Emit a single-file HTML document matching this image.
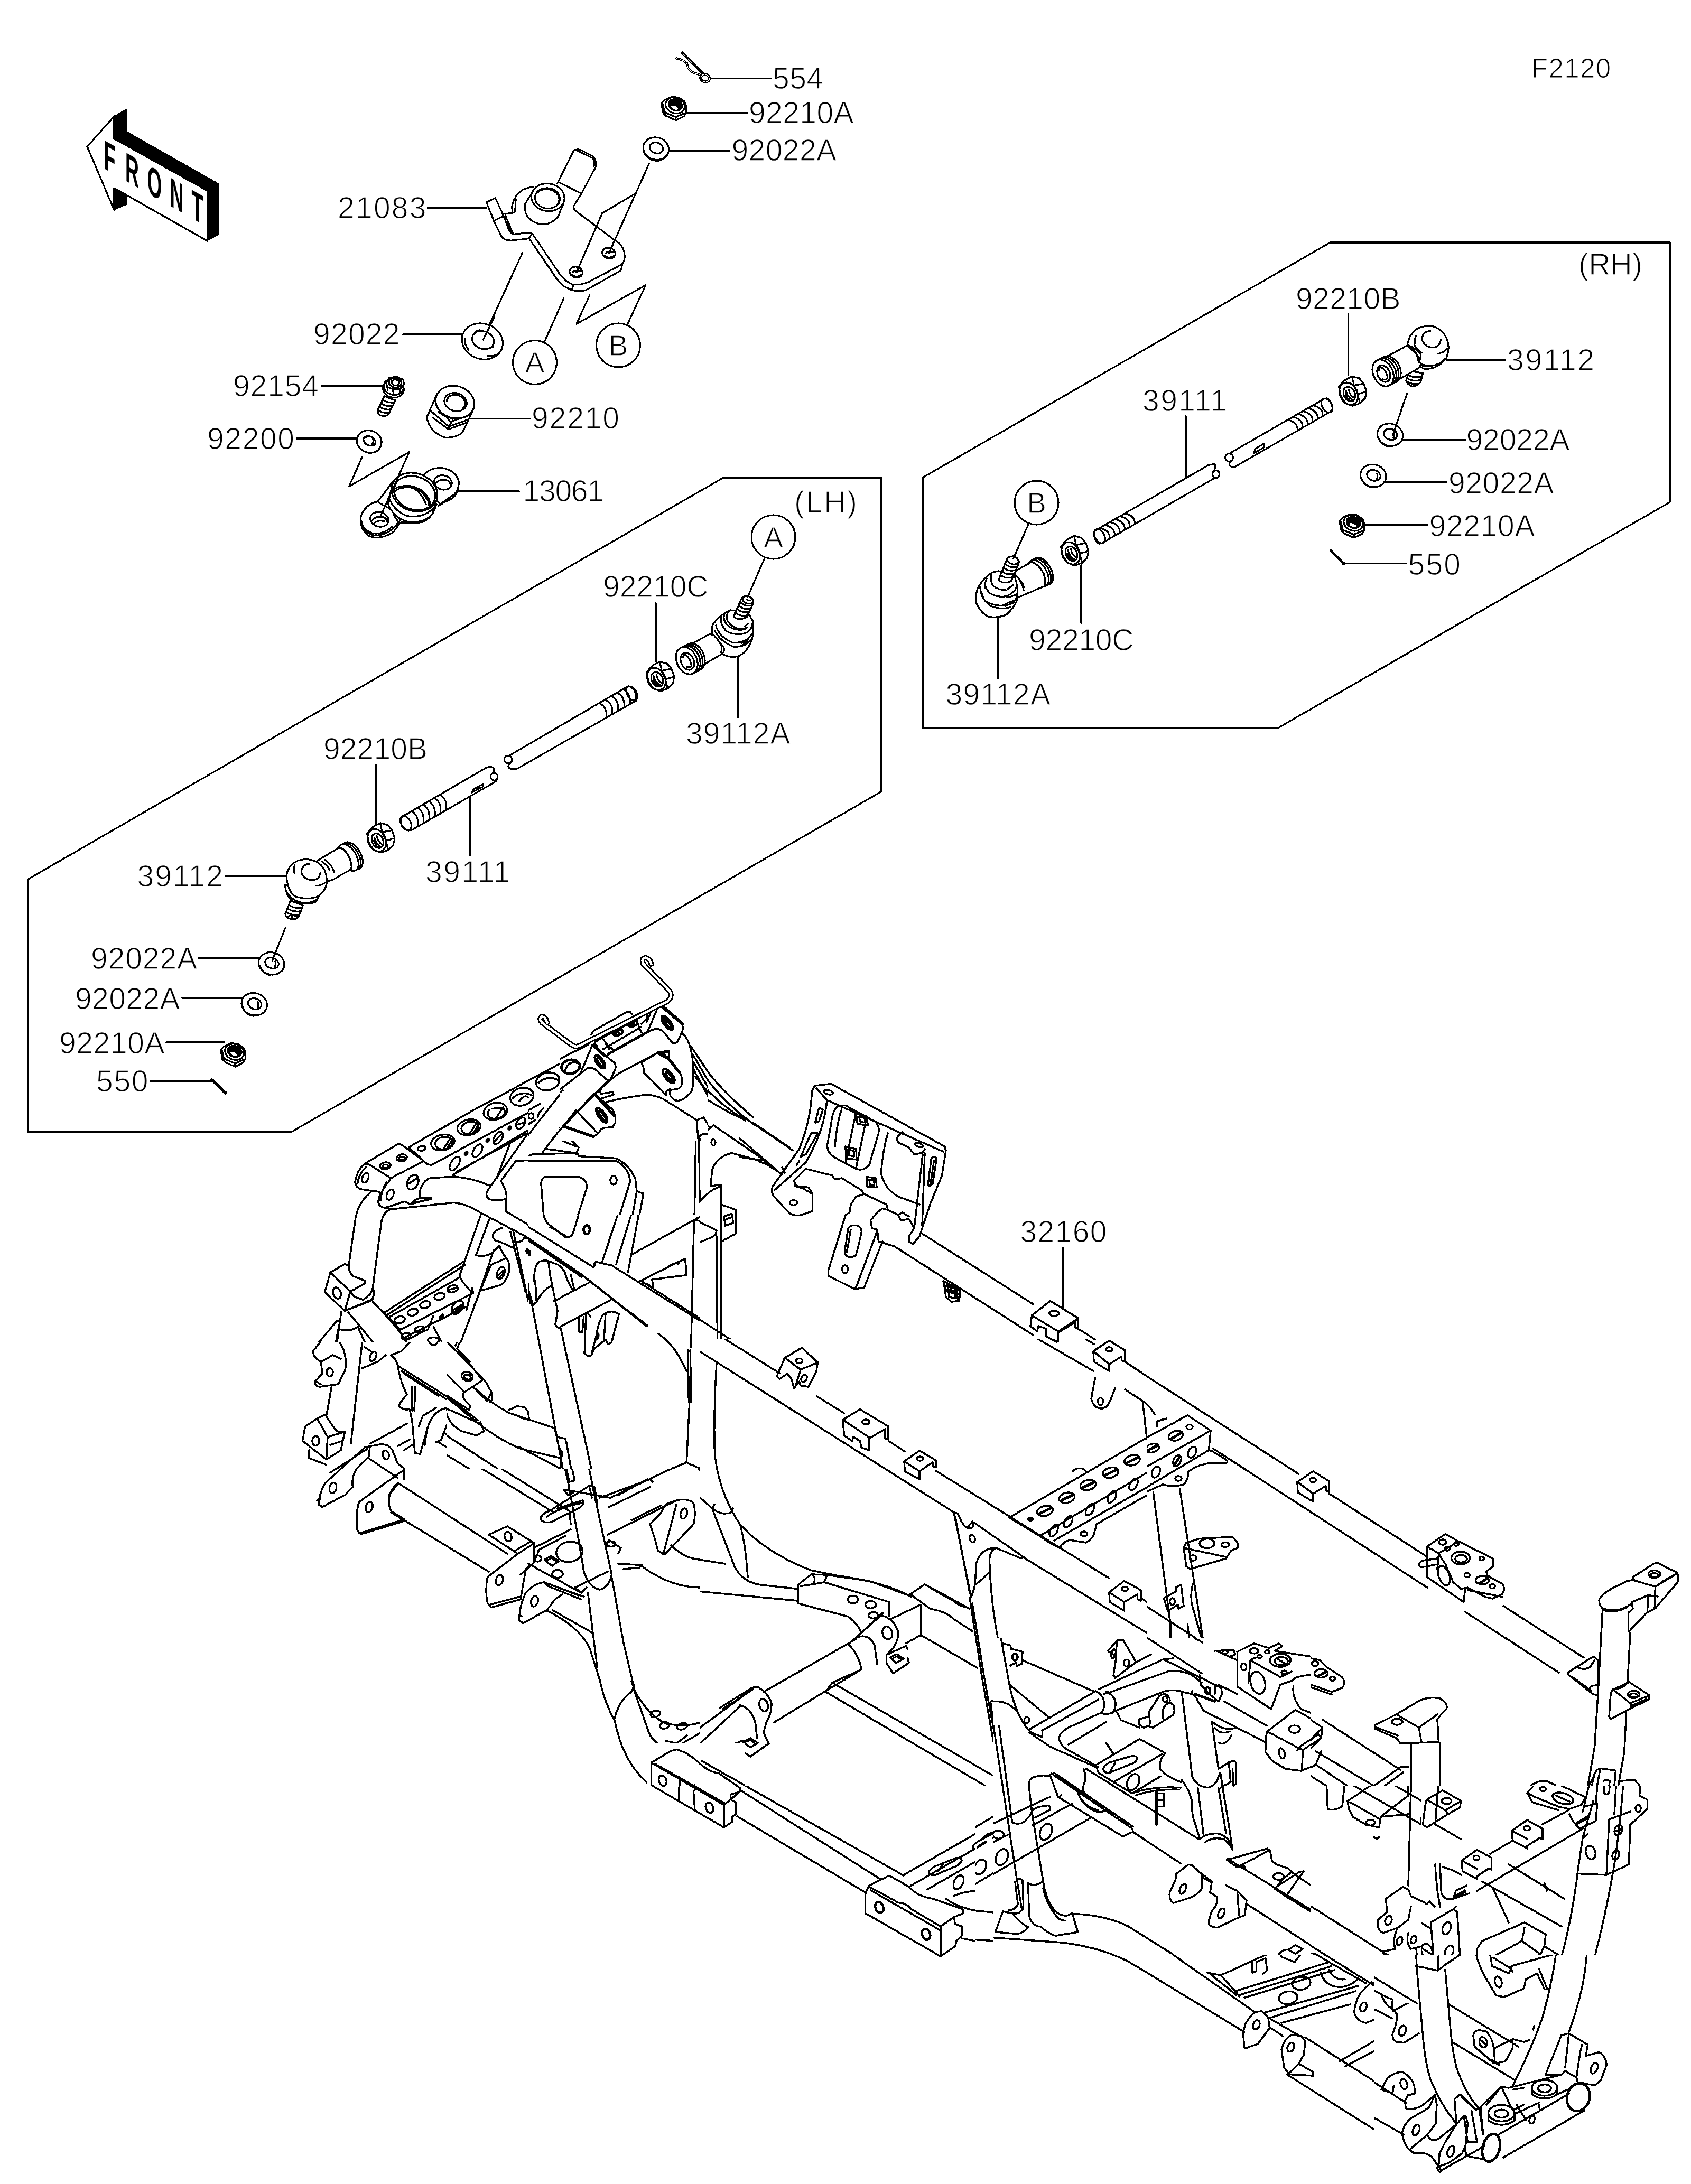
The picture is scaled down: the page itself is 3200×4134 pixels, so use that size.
<!DOCTYPE html>
<html lang="en"><head><meta charset="utf-8"><title>F2120 Frame</title>
<style>
html,body{margin:0;padding:0;background:#fff}
svg{display:block}
svg *{vector-effect:non-scaling-stroke}
svg path,svg ellipse,svg circle,svg line,svg polygon{shape-rendering:crispEdges}
.l{fill:none;stroke:#000;stroke-width:3.1px;stroke-linecap:round;stroke-linejoin:round}
.f{fill:none;stroke:#000;stroke-width:3.5px;stroke-linecap:round;stroke-linejoin:round}
.w{fill:#fff;stroke:#000;stroke-width:3.1px;stroke-linejoin:round;stroke-linecap:round}
.k{fill:#000;stroke:#000;stroke-width:1px;stroke-linejoin:round}
.t{font-family:"Liberation Sans",sans-serif;font-size:57px;fill:#000;stroke:#fff;stroke-width:1.3px}
.ts{font-family:"Liberation Sans",sans-serif;font-size:51px;fill:#000;stroke:#fff;stroke-width:1.2px}
.tc{font-family:"Liberation Sans",sans-serif;font-size:55px;fill:#000;stroke:#fff;stroke-width:1.3px;text-anchor:middle}
.tf{font-family:"Liberation Sans",sans-serif;font-weight:bold;font-size:78px;fill:#000;text-anchor:middle}
</style></head><body>
<svg width="3200" height="4134" viewBox="0 0 3200 4134">
<rect x="0" y="0" width="3200" height="4134" fill="#fff" stroke="none"/>
<g id="front">
<path class="k" d="M216 220L239 206.500L239 248.500L414 347.500L414 444L392.500 456L392.500 361L216 262.500Z"/>
<path class="k" d="M216 356L239 369L239 387.500L216 397.500Z"/>
<path class="w" d="M165 277.500L216 220L216 262.500L392.500 361L392.500 456L216 356L216 397.500Z"/>
<g transform="translate(207.500,325) skewY(29.500)">
<text class="tf" transform="translate(0,0) scale(.46,1)" x="0" y="0">F</text>
<text class="tf" transform="translate(42.500,0) scale(.46,1)" x="0" y="0">R</text>
<text class="tf" transform="translate(85,0) scale(.46,1)" x="0" y="0">O</text>
<text class="tf" transform="translate(127,0) scale(.46,1)" x="0" y="0">N</text>
<text class="tf" transform="translate(166,0) scale(.46,1)" x="0" y="0">T</text>
</g>
</g>
<g id="bracket21083" transform="translate(900,260) scale(.2496)">
<path class="l" d="M620 350L745 100Q762 86 795 95L885 140Q920 172 912 222L800 430L745 520Q738 542 757 557L1090 805Q1135 850 1130 910Q1128 950 1100 968L860 1095Q790 1125 735 1115Q690 1100 640 1040L430 730L415 722L285 735Q262 722 250 700L215 600"/>
<path class="l" d="M770 100L890 160Q905 185 898 218"/>
<path class="l" d="M640 345L800 425"/>
<path class="l" d="M210 590L150 460L82 492L145 650L195 750Q210 772 230 777L270 782L400 768L430 732"/>
<path class="l" d="M145 630L205 600M225 590L285 735M205 585L270 720"/>
<path class="l" d="M210 580L280 575Q300 570 300 545L305 470M280 575L275 530Q290 440 360 395Q400 378 440 375"/>
<path class="l" d="M405 765L620 1080Q650 1120 690 1140Q740 1170 810 1165Q840 1160 870 1140L1100 1010Q1112 990 1110 965M740 1120L730 1160"/>
<ellipse class="l" cx="548" cy="455" rx="126" ry="104" transform="rotate(8 548 455)"/>
<ellipse class="l" cx="545" cy="462" rx="95" ry="77" transform="rotate(8 545 462)"/>
<path class="l" d="M470 420Q500 385 560 395Q625 410 635 470Q630 500 618 515"/>
<path class="l" d="M425 425L375 505Q365 560 400 610Q450 660 520 660Q590 650 625 600L665 505"/>
<ellipse class="l" cx="1010" cy="878" rx="50" ry="40" transform="rotate(15 1010 878)"/>
<path class="l" d="M975 895Q1010 925 1045 900M985 880Q1000 860 1040 870"/>
<ellipse class="l" cx="762" cy="1022" rx="50" ry="40" transform="rotate(15 762 1022)"/>
<path class="l" d="M727 1040Q762 1068 797 1045M737 1022Q755 1003 792 1015"/>
<path class="l" d="M1315 200L1010 880M1205 430L960 575L765 1025M355 875L55 1530M668 1222L525 1545M865 1195L765 1415L1290 1120L1150 1420"/>
<ellipse class="l" cx="1368" cy="85" rx="98" ry="84" transform="rotate(15 1368 85)"/>
<ellipse class="l" cx="1370" cy="80" rx="52" ry="40" transform="rotate(20 1370 80)"/>
<path class="l" d="M1275 110Q1300 175 1380 178Q1440 170 1460 120"/>
</g>
<g id="pin554" transform="translate(1220,80) scale(.1248)">
<path d="M485 245Q600 270 640 320Q650 400 700 440Q760 475 835 492" fill="none" stroke="#000" stroke-width="4.4" stroke-linecap="round"/>
<path d="M485 245Q600 270 640 320Q650 400 700 440Q760 475 835 492" fill="none" stroke="#fff" stroke-width="1.1" stroke-linecap="round"/>
<path d="M570 160L885 478" fill="none" stroke="#000" stroke-width="5" stroke-linecap="round"/>
<path d="M575 175L720 320" fill="none" stroke="#fff" stroke-width=".8"/>
<ellipse cx="915" cy="545" rx="66" ry="56" fill="#fff" stroke="#000" stroke-width="5.5" transform="rotate(15 915 545)"/>
<ellipse cx="915" cy="545" rx="66" ry="56" fill="none" stroke="#fff" stroke-width="1" transform="rotate(15 915 545)"/>
</g>
<g id="nut92210A_top" transform="translate(1220,80) scale(.1248)">
<path class="w" d="M255 925L300 875L415 825L520 840L600 895L625 950L630 1060L600 1120L475 1185L320 1115L275 1065Z"/>
<path class="l" d="M275 935L300 1060L470 1135L605 1075M470 1135L475 1185M300 1060L320 1115"/>
<ellipse class="l" cx="462" cy="958" rx="148" ry="118" transform="rotate(20 462 958)"/>
<ellipse class="k" cx="465" cy="950" rx="115" ry="92" transform="rotate(20 465 950)"/>
<ellipse cx="455" cy="992" rx="56" ry="24" fill="#fff" stroke="none" transform="rotate(25 455 992)"/>
</g>
<g id="leftparts" transform="translate(640,600) scale(.2496)">
<!-- washer 92022 -->
<ellipse class="w" cx="1093" cy="185" rx="158" ry="134" transform="rotate(20 1093 185)"/>
<ellipse class="l" cx="1098" cy="175" rx="85" ry="66" transform="rotate(20 1098 175)"/>
<path class="l" d="M962 165Q955 215 990 250M1130 296Q1180 300 1215 280M1030 125Q1045 105 1070 100M1175 170Q1185 200 1170 230"/>
<path class="l" d="M1185 0L1100 172"/>
<!-- bolt 92154 -->
<path class="w" d="M350 600L298 710Q300 745 340 752Q375 750 388 728L432 632Z"/>
<path class="l" d="M335 625Q375 655 420 648M322 652Q362 682 408 675M310 678Q350 708 396 700M300 704Q340 734 386 726"/>
<ellipse class="w" cx="418" cy="545" rx="80" ry="66" transform="rotate(10 418 545)"/>
<ellipse class="w" cx="420" cy="530" rx="76" ry="60" transform="rotate(10 420 530)"/>
<path class="w" d="M362 500L385 462L440 452L492 475L500 510L470 545L415 548L372 530Z"/>
<ellipse class="l" cx="432" cy="498" rx="48" ry="36" transform="rotate(10 432 498)"/>
<ellipse class="l" cx="434" cy="498" rx="30" ry="22" transform="rotate(10 434 498)"/>
<path class="l" d="M372 530L375 560M415 548L418 580M470 545L472 572"/>
<!-- washer 92200 -->
<ellipse class="w" cx="235" cy="945" rx="95" ry="84" transform="rotate(20 235 945)"/>
<ellipse class="l" cx="237" cy="940" rx="48" ry="34" transform="rotate(25 237 940)"/>
<path class="l" d="M150 975Q175 1025 240 1030M262 922Q275 945 255 965M205 915Q215 905 230 905"/>
<!-- zigzag -->
<path class="l" d="M180 1065L82 1285L538 1025L316 1522"/>
<!-- collar 92210 -->
<path class="w" d="M742 600L672 760Q690 870 810 915Q920 915 950 860L1030 690Z"/>
<path class="l" d="M735 640L850 795L1000 742M705 715L838 832L985 778M838 832L868 785M838 832L845 852M720 765L835 852L972 802"/>
<ellipse class="w" cx="885" cy="645" rx="148" ry="122" transform="rotate(15 885 645)"/>
<ellipse class="l" cx="890" cy="645" rx="86" ry="68" transform="rotate(15 890 645)"/>
<path class="l" d="M822 640Q830 590 890 590Q950 600 962 650Q960 680 945 695"/>
<path class="l" d="M760 720Q840 790 960 760"/>
</g>
<g id="p13061" transform="translate(640,600) scale(.2496)">
<!-- right ear -->
<path class="w" d="M650 1195Q700 1140 790 1145Q900 1165 915 1255Q915 1310 880 1345L770 1420L690 1300Z"/>
<path class="l" d="M905 1300Q905 1340 870 1372L760 1430"/>
<ellipse class="l" cx="795" cy="1255" rx="68" ry="54" transform="rotate(15 795 1255)"/>
<path class="l" d="M740 1260Q770 1225 830 1240Q855 1260 855 1285"/>
<!-- left ear -->
<path class="w" d="M300 1400Q200 1420 170 1520Q165 1620 240 1665Q330 1690 420 1630L470 1560Q560 1575 640 1555Q720 1520 745 1420L420 1240Z"/>
<path class="l" d="M180 1580Q200 1640 270 1655Q350 1665 420 1600L475 1535M175 1545Q190 1620 260 1640Q340 1655 410 1590"/>
<path class="l" d="M300 1400L420 1240M310 1410L440 1480M440 1480L480 1520M420 1500L460 1560M470 1560L600 1530"/>
<ellipse class="l" cx="312" cy="1535" rx="70" ry="55" transform="rotate(15 312 1535)"/>
<path class="l" d="M255 1545Q290 1500 350 1520Q375 1540 375 1570M265 1570Q300 1535 350 1550"/>
<!-- body -->
<path class="w" d="M405 1290L378 1420Q420 1520 520 1550Q640 1570 710 1500L750 1380Z"/>
<path class="l" d="M388 1380Q430 1480 530 1510Q650 1525 715 1455"/>
<ellipse class="w" cx="578" cy="1328" rx="178" ry="142" transform="rotate(20 578 1328)"/>
<ellipse class="l" cx="580" cy="1335" rx="160" ry="125" transform="rotate(20 580 1335)"/>
<path class="l" d="M430 1320Q520 1262 620 1320Q690 1380 690 1440M435 1300Q530 1250 640 1320Q700 1380 700 1430M560 1290Q640 1340 665 1420"/>
<path class="l" d="M538 1025L316 1522"/>
</g>
<g id="lh39112A" transform="translate(1080,1100) scale(.2496)">
<!-- stud -->
<path class="w" d="M1295 130L1235 270Q1270 305 1335 272L1385 165Q1380 120 1340 112Q1305 112 1295 130Z"/>
<ellipse class="l" cx="1343" cy="142" rx="42" ry="28" transform="rotate(15 1343 142)"/>
<path class="l" d="M1285 160Q1320 195 1372 185M1275 185Q1310 220 1362 208M1262 212Q1298 245 1350 232M1250 240Q1285 272 1340 258"/>
<path class="l" d="M1335 140Q1350 150 1360 145"/>
<!-- socket -->
<path class="w" d="M1075 335Q1110 270 1210 220L1250 225L1235 270Q1270 305 1335 272L1350 250L1380 300Q1392 370 1375 440Q1340 540 1270 570Q1200 585 1150 550Q1170 520 1160 500L1085 410Q1060 395 1075 335Z"/>
<path class="l" d="M1100 335Q1120 420 1230 468Q1330 470 1375 400M1092 375Q1130 455 1235 498Q1330 500 1370 440M1300 470L1345 445M1300 485L1350 460"/>
<path class="l" d="M1140 275Q1130 330 1180 380Q1260 420 1340 390Q1375 360 1378 320M1165 250Q1150 300 1200 345Q1260 380 1320 365M1150 340L1170 365M1240 350Q1290 375 1340 350M1320 345L1345 320"/>
<path class="l" d="M1210 220Q1175 240 1185 290Q1200 330 1235 345"/>
<!-- neck -->
<path class="w" d="M920 475L1055 400L1085 410L1160 500Q1172 520 1150 550L985 648Z"/>
<path class="l" d="M1130 470Q1155 500 1140 540"/>
<!-- threaded end rings -->
<ellipse class="w" cx="935" cy="575" rx="76" ry="108" transform="rotate(-25 935 575)"/>
<ellipse class="w" cx="918" cy="585" rx="76" ry="108" transform="rotate(-25 918 585)"/>
<ellipse class="w" cx="900" cy="593" rx="76" ry="108" transform="rotate(-25 900 593)"/>
<ellipse class="w" cx="880" cy="603" rx="76" ry="108" transform="rotate(-25 880 603)"/>
<ellipse class="l" cx="885" cy="608" rx="48" ry="68" transform="rotate(-25 885 608)"/>
<path class="l" d="M850 580Q850 555 870 560Q905 580 915 640M880 650Q905 660 915 640"/>
</g>
<g id="lh92210C" transform="translate(1080,1100) scale(.2496)">
<path class="w" d="M575 690L620 640L675 610L730 625L765 665L785 725L775 775L735 815L680 835L625 815L590 760Z"/>
<path class="l" d="M675 610L690 680L765 665M690 680L718 745L735 815M718 745L785 725"/>
<ellipse class="l" cx="650" cy="742" rx="66" ry="88" transform="rotate(-25 650 742)"/>
<ellipse class="l" cx="655" cy="745" rx="42" ry="58" transform="rotate(-25 655 745)"/>
<path class="l" d="M630 720Q640 770 680 790M650 710Q660 760 695 775M625 745Q640 785 670 800"/>
</g>
<g id="lhrod" transform="translate(680,1280) scale(.2496)">
<path class="w" d="M330 1062L960 695Q990 680 1018 695Q1030 720 1000 745Q990 775 1040 795L400 1165Q360 1180 330 1150Q300 1100 330 1062Z"/>
<ellipse class="l" cx="352" cy="1112" rx="36" ry="58" transform="rotate(-30 352 1112)"/>
<path class="l" d="M398 1022Q455 1060 442 1140M441 997Q498 1035 485 1115M484 972Q541 1010 528 1090M527 947Q584 985 571 1065M570 922Q627 960 614 1040M613 897Q670 935 657 1015"/>
<circle class="w" cx="1022" cy="762" r="28"/>
<path class="l" d="M850 882L872 852L940 818L932 842ZM872 852L925 845"/>
<path class="w" d="M1140 600L2030 80Q2075 70 2095 110Q2115 150 2100 184L1200 700Q1150 712 1130 690Q1125 670 1150 655Z"/>
<circle class="w" cx="1128" cy="632" r="30"/>
<ellipse class="l" cx="2065" cy="130" rx="36" ry="58" transform="rotate(-30 2065 130)"/>
<path class="l" d="M1820 205Q1882 232 1872 318M1865 179Q1927 206 1917 292M1910 153Q1972 180 1962 266M1955 127Q2017 154 2007 240M2000 101Q2062 128 2052 214M2045 75Q2107 102 2097 188"/>
</g>
<use href="#lh92210C" transform="translate(-529,305.5)"/>
<defs>
<g id="wsh">
<ellipse class="w" cx="0" cy="0" rx="24.5" ry="21" transform="rotate(15)"/>
<ellipse class="l" cx=".5" cy="-1" rx="13" ry="10" transform="rotate(20)"/>
<path class="l" d="M-22.5 4Q-18 19 -2 22.5M7 -4Q9 2 6 6"/>
</g>
</defs>
<g id="lh39112" transform="translate(380,1590) scale(.2496)">
<!-- stud -->
<path class="w" d="M680 460L640 560Q645 590 690 602Q730 600 742 582L775 495Z"/>
<path class="l" d="M668 492Q705 520 762 515M658 518Q695 548 752 540M648 545Q685 575 745 565M690 602L692 575M660 580Q690 560 740 585"/>
<!-- boot rings -->
<path class="w" d="M640 340Q640 420 700 465Q790 500 870 470L900 420Z"/>
<path class="l" d="M655 400Q700 470 790 480Q850 475 880 450"/>
<!-- neck + end -->
<ellipse class="w" cx="1150" cy="118" rx="62" ry="112" transform="rotate(-30 1150 118)"/>
<ellipse class="w" cx="1135" cy="125" rx="62" ry="112" transform="rotate(-30 1135 125)"/>
<ellipse class="w" cx="1118" cy="133" rx="62" ry="112" transform="rotate(-30 1118 133)"/>
<path class="w" d="M880 160L1040 62Q1080 50 1120 120Q1150 180 1140 222L1000 302Q975 312 955 310Z"/>
<path class="l" d="M940 150Q1000 190 1010 245M920 165Q960 195 975 225"/>
<!-- ball housing -->
<path class="w" d="M650 270Q660 190 740 155Q830 130 900 180Q960 230 955 330Q940 400 880 432Q800 455 720 430Q655 390 650 270Z"/>
<path class="l" d="M905 250Q900 300 850 305Q790 305 765 255Q755 210 800 185Q815 180 825 183M712 190Q700 220 708 250M872 348Q920 345 950 318"/>
</g>
<use href="#wsh" x="513.75" y="1823.75"/>
<use href="#wsh" x="481.25" y="1900.75"/>
<use href="#nut92210A_top" transform="translate(-834,1791.5)"/>
<path d="M401 2043.500L425.500 2068" fill="none" stroke="#000" stroke-width="5" stroke-linecap="round"/>
<circle cx="426" cy="2068.500" r="3.200" fill="#000"/>
<g id="rh39112" transform="translate(2420,560) scale(.2496)">
<!-- stud -->
<path class="w" d="M990 570L965 640Q975 675 1010 686Q1050 685 1075 655L1092 585Z"/>
<path class="l" d="M980 600Q1020 625 1085 612M972 625Q1010 652 1080 638M968 650Q1005 672 1060 668"/>
<!-- boot -->
<path class="w" d="M1050 480Q1055 540 1110 555Q1180 555 1235 510L1250 470Z"/>
<path class="l" d="M1062 520Q1110 540 1160 535"/>
<!-- end rings and neck -->
<path class="w" d="M975 375L830 455L900 640L1060 548Q1085 520 1080 480Z"/>
<ellipse class="w" cx="845" cy="558" rx="74" ry="106" transform="rotate(-25 845 558)"/>
<ellipse class="w" cx="828" cy="566" rx="74" ry="106" transform="rotate(-25 828 566)"/>
<ellipse class="w" cx="810" cy="575" rx="74" ry="106" transform="rotate(-25 810 575)"/>
<ellipse class="w" cx="790" cy="585" rx="74" ry="106" transform="rotate(-25 790 585)"/>
<ellipse class="l" cx="795" cy="590" rx="46" ry="66" transform="rotate(-25 795 590)"/>
<path class="l" d="M760 565Q760 540 780 545Q815 565 825 622M790 632Q815 642 825 622"/>
<!-- ball housing -->
<path class="w" d="M975 370Q985 300 1040 255Q1100 220 1170 232Q1260 260 1285 360Q1292 420 1270 470Q1220 525 1150 532Q1090 530 1060 500Q1085 470 1075 440Q1040 400 975 370Z"/>
<path class="l" d="M1228 330Q1225 385 1170 392Q1110 390 1088 340Q1080 290 1125 270Q1140 265 1150 268M1040 300Q1028 330 1032 360M1030 375Q1050 410 1082 430M1205 440Q1250 430 1278 400M1000 385Q1050 430 1060 500"/>
</g>
<use href="#wsh" x="2630.5" y="823"/>
<use href="#wsh" x="2598.75" y="900.5"/>
<use href="#nut92210A_top" transform="translate(1283.25,790.25)"/>
<path d="M2518.5 1042.500L2542 1066" fill="none" stroke="#000" stroke-width="5" stroke-linecap="round"/>
<circle cx="2542.500" cy="1066.500" r="3.200" fill="#000"/>
<use href="#lh92210C" transform="translate(1310,-540)"/>
<g id="rhrod">
<path class="w" d="M2073.2 1003.8L2285.7 881.1Q2293.2 878.0 2299.5 879.0Q2298.7 887.5 2298.9 892.0Q2292.6 899.1 2303.5 902.0L2086.8 1027.2Q2078.1 1032.2 2074.7 1024.3Q2065.5 1008.3 2073.2 1003.8Z"/>
<ellipse class="l" cx="2080.9" cy="1015.0" rx="9" ry="14.5" transform="rotate(-30 2080.9 1015.0)"/>
<path class="l" d="M2081.0 999.3Q2100.8 1003.5 2099.7 1019.7M2090.6 993.8Q2110.3 998.0 2109.3 1014.2M2100.1 988.3Q2119.8 992.5 2118.8 1008.7M2109.6 982.8Q2129.4 987.0 2128.3 1003.2M2119.1 977.3Q2138.9 981.5 2137.8 997.7M2128.7 971.8Q2148.4 976.0 2147.4 992.2"/>
<circle class="w" cx="2301" cy="897.5" r="7"/>
<path class="w" d="M2328.6 857.2L2504.2 755.8Q2512.9 750.8 2516.3 758.7Q2525.5 774.7 2517.8 779.2L2342.5 880.4Q2333.1 888.1 2326.5 880.5Q2325.0 875.0 2331.5 871.8Z"/>
<ellipse class="l" cx="2511.0" cy="767.5" rx="9" ry="14.5" transform="rotate(-30 2511.0 767.5)"/>
<path class="l" d="M2484.3 767.3Q2504.1 771.5 2503.0 787.7M2474.8 772.8Q2494.5 777.0 2493.5 793.2M2465.3 778.3Q2485.0 782.5 2484.0 798.7M2455.8 783.8Q2475.5 788.0 2474.4 804.2M2446.2 789.3Q2466.0 793.5 2464.9 809.7M2436.7 794.8Q2456.4 799.0 2455.4 815.2"/>
<circle class="w" cx="2326" cy="866" r="7.5"/>
<path class="l" d="M2373.0 857.7L2375.2 849.5L2392.5 839.5L2392.1 846.7Z"/>
</g>
<use href="#lh92210C" transform="translate(784,-238)"/>
<g id="rh39112A" transform="translate(1780,860) scale(.2496)">
<!-- end rings (far) -->
<ellipse class="w" cx="775" cy="885" rx="62" ry="112" transform="rotate(-30 775 885)"/>
<ellipse class="w" cx="760" cy="893" rx="62" ry="112" transform="rotate(-30 760 893)"/>
<ellipse class="w" cx="742" cy="902" rx="62" ry="112" transform="rotate(-30 742 902)"/>
<!-- neck -->
<path class="w" d="M560 890L690 815Q740 830 780 900Q800 960 790 998L580 1088Z"/>
<path class="l" d="M575 925Q615 960 630 1030M600 950Q625 980 632 1010"/>
<!-- socket -->
<path class="w" d="M290 1000Q330 930 400 892L440 885L560 930Q590 990 582 1100Q560 1160 500 1215Q430 1245 360 1230Q300 1200 268 1120Q262 1050 290 1000Z"/>
<path class="l" d="M300 1005Q300 1080 350 1120Q420 1160 520 1140Q565 1120 580 1075M310 1040Q320 1110 380 1150Q450 1180 530 1160M490 1135L550 1110M490 1150L555 1125"/>
<path class="l" d="M350 940Q320 1000 370 1050Q430 1090 500 1075Q560 1050 580 1000M385 915Q370 960 400 1000Q440 1030 500 1030M335 1010L360 1030M500 1080Q540 1085 575 1060M510 1020L550 990"/>
<!-- stud -->
<path class="w" d="M500 800L440 950Q470 990 535 960L595 820Q590 780 548 772Q510 775 500 800Z"/>
<ellipse class="l" cx="548" cy="805" rx="44" ry="28" transform="rotate(15 548 805)"/>
<path class="l" d="M490 830Q525 865 580 852M478 858Q513 892 568 878M466 886Q500 920 556 905M455 914Q490 948 545 932"/>
</g>
<defs><clipPath id="cpB"><rect x="560" y="2100" width="440" height="440"/></clipPath>
<clipPath id="cpA"><path clip-rule="evenodd" d="M845 1690H1690V2535H1325V2300H1000V2100H845ZM1060 1880V2160H1340V1880Z"/></clipPath></defs>
<g clip-path="url(#cpB)"><g id="frameB" transform="translate(560,2100) scale(.2602)">
<!-- upper perforated rail -->
<path class="f" d="M820 275L1300 0M985 405L1691 22M1145 475L1691 150M820 275L930 375Q960 412 995 400M1165 455L1691 170"/>
<g class="f">
<ellipse cx="1068" cy="240" rx="86" ry="56" transform="rotate(-12 1068 240)"/><ellipse cx="1075" cy="245" rx="62" ry="45" transform="rotate(-12 1075 245)"/><path d="M1075 285L1125 205M1095 290L1140 215"/>
<ellipse cx="1258" cy="130" rx="86" ry="56" transform="rotate(-12 1258 130)"/><ellipse cx="1265" cy="135" rx="62" ry="45" transform="rotate(-12 1265 135)"/><path d="M1265 175L1315 95M1285 180L1330 105"/>
<ellipse cx="1450" cy="18" rx="86" ry="56" transform="rotate(-12 1450 18)"/><ellipse cx="1457" cy="23" rx="62" ry="45" transform="rotate(-12 1457 23)"/><path d="M1455 65L1505 -15"/>
<ellipse cx="915" cy="283" rx="28" ry="17" transform="rotate(-10 915 283)"/>
<ellipse cx="1155" cy="395" rx="28" ry="56" transform="rotate(32 1155 395)"/>
<ellipse cx="1320" cy="300" rx="28" ry="52" transform="rotate(32 1320 300)"/>
<ellipse cx="1470" cy="207" rx="28" ry="50" transform="rotate(32 1470 207)"/><path d="M1445 230L1495 180"/>
<ellipse cx="1635" cy="100" rx="28" ry="46" transform="rotate(32 1635 100)"/><path d="M1610 110L1660 95"/>
</g>
<ellipse class="k" cx="1238" cy="320" rx="13" ry="18" transform="rotate(30 1238 320)"/>
<ellipse class="k" cx="1395" cy="225" rx="13" ry="18" transform="rotate(30 1395 225)"/>
<ellipse class="k" cx="1555" cy="135" rx="13" ry="18" transform="rotate(30 1555 135)"/>
<!-- top bracket -->
<path class="f" d="M500 395L745 250L770 258L930 375L690 500L525 395ZM500 395Q440 450 430 530Q440 570 470 580L610 600M510 420Q455 470 450 535M690 500L680 520Q610 600 598 670Q605 712 650 715L790 670L830 690L985 650L980 640L905 645Q890 600 920 550Q940 510 975 500L1150 488Q1290 500 1410 555M830 690L880 650L985 640M850 680L970 655M660 530Q625 580 615 660"/>
<g class="f"><ellipse cx="650" cy="410" rx="38" ry="25" transform="rotate(-10 650 410)"/><ellipse cx="770" cy="352" rx="38" ry="25" transform="rotate(-10 770 352)"/><ellipse cx="652" cy="414" rx="22" ry="13"/><ellipse cx="772" cy="356" rx="22" ry="13"/>
<ellipse cx="505" cy="497" rx="22" ry="38" transform="rotate(22 505 497)"/><ellipse cx="850" cy="530" rx="38" ry="56" transform="rotate(25 850 530)"/><path d="M820 540L880 500"/><ellipse cx="685" cy="620" rx="24" ry="40" transform="rotate(22 685 620)"/></g>
<!-- front upright tube -->
<path class="f" d="M545 600Q450 680 432 800L385 1130Q378 1180 420 1215L500 1245L505 1265M690 725Q630 750 620 830L560 1290Q555 1340 520 1360L490 1385L420 1360L395 1325M650 715L700 725L1150 678Q1250 690 1340 750L1691 935M560 1300L570 1340L550 1390"/>
<!-- lower left box bracket -->
<path class="f" d="M250 1185L355 1125L380 1135L385 1150M250 1185L210 1330L355 1465L395 1325ZM395 1325L505 1265M355 1465L560 1380M380 1455L540 1395M330 1470L300 1691M380 1475L560 1691M560 1400L760 1600M320 1600Q400 1620 450 1580M170 1691L300 1535L320 1540L290 1691M450 1580L500 1691"/>
<ellipse class="f" cx="298" cy="1335" rx="28" ry="42" transform="rotate(-20 298 1335)"/>
<!-- lower perforated rail -->
<path class="f" d="M640 1480L1215 1110L1230 1130L655 1500ZM655 1500L760 1620M1190 1215Q1230 1290 1290 1335L1280 1300M745 1610L1290 1335M670 1515L1195 1220M780 1665L1240 1435M1280 1300L1240 1460M1000 1500L960 1600L800 1680M1000 1580L1060 1691M800 1691L760 1620"/>
<g class="f"><ellipse cx="755" cy="1530" rx="38" ry="25" transform="rotate(-15 755 1530)"/><ellipse cx="850" cy="1475" rx="38" ry="25" transform="rotate(-15 850 1475)"/><ellipse cx="940" cy="1420" rx="38" ry="25" transform="rotate(-15 940 1420)"/><ellipse cx="1045" cy="1360" rx="38" ry="25" transform="rotate(-15 1045 1360)"/><ellipse cx="1140" cy="1305" rx="38" ry="25" transform="rotate(-15 1140 1305)"/><path d="M1115 1310L1165 1300"/>
<ellipse cx="1175" cy="1440" rx="35" ry="55" transform="rotate(35 1175 1440)"/><path d="M1145 1460L1210 1420M1150 1475L1200 1440"/>
<ellipse cx="900" cy="1600" rx="35" ry="22" transform="rotate(-15 900 1600)"/><ellipse cx="800" cy="1650" rx="35" ry="22" transform="rotate(-15 800 1650)"/><ellipse cx="1000" cy="1680" rx="40" ry="22"/></g>
<ellipse class="k" cx="1060" cy="1510" rx="16" ry="26" transform="rotate(35 1060 1510)"/>
<!-- right side -->
<path class="f" d="M1345 765L1190 1210M1405 800L1310 1060Q1350 1078 1420 1050L1480 990M1560 240L1460 500M1691 170L1400 580Q1370 620 1400 650Q1450 672 1530 650Q1540 600 1490 520L1600 375L1691 370M1530 650L1525 740L1691 840M1500 860Q1440 880 1430 920Q1440 960 1480 962L1590 1010L1560 890M1580 880L1691 1400M1560 890L1670 1330M1590 960Q1640 972 1660 935L1691 940M1480 990Q1500 1050 1530 1080Q1560 1120 1550 1180Q1530 1260 1480 1280L1340 1320L1420 1130L1530 1080M1440 1020L1310 1400L1200 1691M1340 1320L1300 1420"/>
<ellipse class="f" cx="1490" cy="1190" rx="27" ry="45" transform="rotate(20 1490 1190)"/>
<path class="f" d="M1470 1210L1510 1170M1475 1225L1512 1188"/>
<ellipse class="k" cx="1685" cy="1030" rx="14" ry="20"/>
</g></g>
<g clip-path="url(#cpA)"><g id="frameA" transform="translate(845,1690) scale(.5)">
<!-- wire hook -->
<!-- perforated rail -->
<path class="f" d="M0 878L548 582M0 1000L355 798M0 1078L335 860M0 1060L40 1035"/>
<g class="f">
<ellipse cx="85" cy="885" rx="45" ry="33" transform="rotate(-15 85 885)"/><path d="M50 890Q85 860 125 880M60 905L115 868"/>
<ellipse cx="185" cy="828" rx="45" ry="33" transform="rotate(-15 185 828)"/><path d="M150 833Q185 803 225 823M160 848L215 811"/>
<ellipse cx="285" cy="772" rx="45" ry="33" transform="rotate(-15 285 772)"/><path d="M250 777Q285 747 325 767M275 790Q295 760 310 775"/>
<ellipse cx="383" cy="714" rx="45" ry="33" transform="rotate(-15 383 714)"/><path d="M348 719Q383 689 423 709"/>
<ellipse cx="475" cy="655" rx="42" ry="30" transform="rotate(-15 475 655)"/><path d="M445 662Q475 632 510 648"/>
<path d="M0 915Q30 925 25 950Q15 970 0 972M0 935Q15 945 5 960"/>
<ellipse cx="28" cy="1025" rx="17" ry="24" transform="rotate(25 28 1025)"/>
<ellipse cx="75" cy="985" rx="9" ry="11"/>
<ellipse cx="118" cy="968" rx="17" ry="24" transform="rotate(25 118 968)"/>
<ellipse cx="158" cy="938" rx="9" ry="11"/>
<ellipse cx="200" cy="922" rx="17" ry="24" transform="rotate(25 200 922)"/><path d="M188 940L215 905"/>
<ellipse cx="240" cy="890" rx="9" ry="11"/>
<ellipse cx="282" cy="875" rx="17" ry="24" transform="rotate(25 282 875)"/><path d="M270 890L295 860"/>
<ellipse cx="320" cy="845" rx="9" ry="11"/>
<path d="M345 850Q350 825 368 815"/>
</g>
<!-- diagonal tube -->
<path class="f" d="M525 640L160 1108Q140 1135 158 1155Q185 1170 232 1165M612 712Q480 820 362 985M500 695L468 735"/>
<!-- brackets with slots -->
<path class="f" d="M520 690L548 585L572 578L640 642Q648 660 635 672L605 712Q590 700 570 668L540 660ZM560 580L575 600"/>
<ellipse class="f" cx="588" cy="640" rx="11" ry="27" transform="rotate(-32 588 640)"/>
<path class="f" d="M770 470L795 425L815 422L888 500Q895 515 885 535L868 568L850 565L800 520M760 520L790 440"/>
<ellipse class="f" cx="838" cy="495" rx="11" ry="27" transform="rotate(-38 838 495)"/>
<path class="f" d="M548 548L575 520L690 452L720 470L735 490L600 570M575 520L600 545L720 475M690 452L700 440L750 440M560 560L600 590L640 575M600 590L610 600"/>
<ellipse class="f" cx="655" cy="528" rx="16" ry="11" transform="rotate(-25 655 528)"/>
<ellipse class="f" cx="705" cy="495" rx="14" ry="10" transform="rotate(-25 705 495)"/>
<path class="f" d="M610 600L760 535L800 520M650 690Q720 640 800 605L835 602"/>
<path class="f" d="M735 655L760 612L830 605L845 640L890 690Q898 715 885 735L860 745L845 762Q830 742 800 735L760 700ZM700 665L735 655M690 690L740 680"/>
<ellipse class="f" cx="838" cy="690" rx="13" ry="28" transform="rotate(-42 838 690)"/>
<path class="f" d="M868 568L905 558Q935 640 925 740Q915 775 880 785Q855 785 845 762"/>
<path class="f" d="M925 605Q1000 760 1168 880M935 680Q1000 780 1130 860M930 740Q1000 800 1120 855M905 540Q960 680 1160 850M1120 855L1130 862"/>
<path class="f" d="M560 770L600 790L635 850Q640 870 630 880L575 905L555 890L520 850L490 835M455 880L540 915L575 905M560 765L490 830M580 760L625 770M590 770L630 755"/>
<ellipse class="f" cx="588" cy="832" rx="11" ry="27" transform="rotate(-30 588 832)"/>
<path class="f" d="M430 890L500 965L490 990M440 940L490 960M380 970L490 985"/>
<!-- back cover -->
<path class="f" d="M610 790L740 765L800 770L870 790L945 860L960 855L1000 890L1010 880L1215 1020L1215 1030L1170 1010L1080 985Q1020 1000 1005 1050L1000 1110L1040 1105L1040 1190M955 870L958 1170Q1000 1120 1040 1110M945 860L938 1240M1000 890L965 910"/>
<ellipse class="f" cx="1010" cy="945" rx="8" ry="12"/>
<!-- upper right rail -->
<path class="f" d="M1170 880L1310 975M1215 1030L1270 1065M1270 1040L1280 1060"/>
<!-- plate with trapezoid hole -->
<path class="f" d="M325 990L495 985L500 997L640 1005Q695 1030 715 1085L720 1130L745 1138L690 1440M255 1015L640 1014Q690 1040 695 1092L600 1400M255 1015L325 990M255 1015L205 1100Q215 1130 232 1150L228 1202L560 1415L640 1410M720 1130L690 1300"/>
<path class="f" d="M375 1075L500 1075Q535 1085 530 1120L475 1290Q460 1305 440 1300L385 1260Q370 1250 368 1230L358 1100Q360 1078 375 1075ZM388 1250L448 1288"/>
<ellipse class="f" cx="632" cy="1088" rx="12" ry="16"/>
<ellipse class="f" cx="535" cy="1275" rx="10" ry="15"/>
<!-- box under cover -->
<path class="f" d="M715 1372L940 1238L1022 1278Q1020 1300 1000 1305L690 1442M1040 1105L1040 1180L1095 1200L1095 1290L1040 1320M1040 1190L1040 1691M930 1240L928 1600M1022 1300L1025 1691M1050 1225L1080 1215L1085 1250L1055 1260ZM1060 1235L1075 1230"/>
<!-- lower big diagonal rail -->
<path class="f" d="M640 1410L1075 1691M560 1490L890 1691M0 1080Q90 1075 160 1112M0 1178Q70 1172 125 1205L250 1285L300 1310L760 1622L745 1640L290 1330M625 1530L760 1622"/>
<path class="f" d="M130 1215L65 1460M170 1240L100 1500L60 1691M110 1330Q150 1340 180 1320M250 1290L340 1691M270 1300L330 1560L345 1540M200 1290Q170 1300 180 1330L200 1400Q230 1420 235 1440M160 1420L225 1400"/>
<path class="f" d="M420 1525L600 1440L640 1470L640 1500L440 1600ZM440 1600L420 1680L500 1660M390 1400Q340 1420 335 1470L320 1560M380 1400L470 1450L520 1480M400 1420L430 1520M470 1450L480 1510"/>
<ellipse class="f" cx="310" cy="1362" rx="8" ry="12"/>
<ellipse class="f" cx="202" cy="1442" rx="8" ry="14"/>
<path class="f" d="M0 1460L60 1420L90 1500L100 1560L30 1620L0 1600M0 1540L85 1490M760 1460L870 1400L900 1440L780 1490M690 1440L760 1460M500 1660L560 1691M620 1600L640 1691M560 1640L580 1691M700 1500L760 1480"/>
<ellipse class="f" cx="22" cy="1500" rx="14" ry="10"/>
<ellipse class="f" cx="40" cy="1580" rx="16" ry="12"/>
</g></g>
<g id="frameJ" transform="translate(1690,1690) scale(.5)">
<path class="f" d="M110 1290L530 1557M0 1335L530 1674M700 1650L765 1691"/>
<path class="f" d="M525 1600L595 1545L700 1610L700 1650L690 1645L690 1625L625 1665M525 1600L520 1640L545 1660L550 1640L580 1650L580 1680L620 1700M525 1600L625 1660L700 1612M625 1660L625 1700"/>
<ellipse class="f" cx="610" cy="1592" rx="18" ry="10"/>
<path class="f" d="M190 1470L250 1500L255 1515L245 1520L205 1510L195 1495ZM205 1485L240 1500L238 1515L210 1508Z"/>
</g>
<defs><clipPath id="cpN"><rect x="1060" y="1880" width="280" height="280"/></clipPath></defs>
<g clip-path="url(#cpN)"><g id="frameN" transform="translate(1060,1880) scale(.16558)">
<!-- top channel -->
<path class="f" d="M355 470Q370 440 400 420L760 215L800 215L820 240M400 555L870 300L1000 225M490 640L870 420L920 390M870 300L900 380L930 450M1000 225L985 300L930 350M480 510L540 590L560 640M520 580L600 640M395 545Q390 580 420 600"/>
<path class="f" d="M545 698L1000 442" style="stroke-width:5px"/>
<g class="f" style="stroke-width:4.5px"><ellipse cx="830" cy="345" rx="55" ry="33" transform="rotate(-20 830 345)"/><ellipse cx="660" cy="450" rx="55" ry="33" transform="rotate(-20 660 450)"/></g>
<ellipse class="f" cx="825" cy="352" rx="25" ry="15"/><ellipse class="f" cx="655" cy="458" rx="25" ry="15"/>
<!-- bracket 1 -->
<path class="f" d="M370 590L625 800Q640 830 630 870L580 980L545 1000L400 870Q360 850 320 850L230 920M370 590L230 920"/>
<path class="f" d="M380 595L500 705" style="stroke-width:6px"/>
<ellipse class="f" cx="455" cy="785" rx="36" ry="85" transform="rotate(-35 455 785)" style="stroke-width:5px"/>
<ellipse class="f" cx="462" cy="792" rx="16" ry="62" transform="rotate(-35 462 792)"/>
<!-- left big hole + rail lines -->
<ellipse class="f" cx="120" cy="840" rx="105" ry="78" transform="rotate(-10 120 840)" style="stroke-width:5px"/>
<path class="f" d="M60 880Q80 800 150 790L210 800M0 750L320 590M0 1100L230 920M0 1130L30 1110"/>
<!-- bracket 2 -->
<path class="f" d="M1130 130L1395 360Q1410 400 1395 440L1340 560L1290 575L1180 440Q1130 400 1080 410L1000 440M1130 130L1000 440M1060 160L1000 300L990 330"/>
<path class="f" d="M1145 125L1400 352" style="stroke-width:6px"/>
<ellipse class="f" cx="1225" cy="340" rx="36" ry="95" transform="rotate(-38 1225 340)" style="stroke-width:5px"/>
<ellipse class="f" cx="1230" cy="347" rx="14" ry="70" transform="rotate(-38 1230 347)"/>
<!-- cross tube lower edge -->
<path class="f" d="M470 1090Q600 960 700 900L950 770L1120 680"/>
<!-- bracket 3 -->
<path class="f" d="M930 790L1120 680L1240 750L1365 895Q1400 960 1395 1035Q1380 1080 1340 1095L1270 1105Q1245 1120 1255 1160Q1280 1220 1340 1230Q1420 1220 1480 1150Q1520 1100 1515 1050M960 870L960 910L1210 1165L1215 1120L1260 1095M930 790L960 870M1170 690L1240 670L1240 740ZM1120 675L1240 660"/>
<path class="f" d="M1130 690L1240 750L1360 900" style="stroke-width:5.5px"/>
<ellipse class="f" cx="1240" cy="945" rx="40" ry="95" transform="rotate(-38 1240 945)" style="stroke-width:5px"/>
<ellipse class="f" cx="1247" cy="952" rx="15" ry="68" transform="rotate(-38 1247 952)"/>
<!-- curved tube piece + fan lines -->
<path class="f" d="M1395 460Q1470 520 1490 640L1510 720Q1530 900 1515 1060M1490 600L1691 900M1510 690L1691 1000M1520 780L1691 1080M1530 880L1691 1180M1540 950L1691 1130"/>
<!-- cover top edge -->
<path class="f" d="M520 1245Q800 1180 1000 1160Q1100 1170 1180 1210L1560 1450L1640 1420L1691 1500M1560 1450L1580 1691M1590 1640Q1620 1600 1691 1610M1600 1691L1590 1640"/>
<!-- diagonal tube + bracket 4 -->
<path class="f" d="M545 1000L0 1560M380 1160L50 1500M390 1150L420 1135L470 1100M390 1150L600 1330Q640 1400 630 1480L600 1530L500 1540Q460 1550 440 1600L380 1640M180 1340L430 1600M0 1560L40 1520L180 1340M440 1110L470 1150L600 1130L610 1160L480 1200"/>
<path class="f" d="M395 1155L615 1400M40 1520L380 1640" style="stroke-width:5.5px"/>
<ellipse class="f" cx="475" cy="1395" rx="36" ry="95" transform="rotate(-35 475 1395)" style="stroke-width:5px"/>
<ellipse class="f" cx="482" cy="1402" rx="14" ry="68" transform="rotate(-35 482 1402)"/>
</g></g>
<g id="frameK" transform="translate(1400,2000) scale(.5)">
<path class="f" d="M285 110L345 103L775 340L780 355L765 450L720 560L680 680L655 710L640 700L640 680L660 650L692 372M285 110Q270 125 272 150Q265 250 225 350L125 490Q115 510 130 530L185 590Q200 605 230 600L275 585L275 520L240 500L210 490L205 470L250 425M290 120L330 165L770 360M330 165Q320 280 250 400L132 505M700 365L690 640"/>
<ellipse class="f" cx="335" cy="135" rx="18" ry="8" transform="rotate(12 335 135)"/>
<path class="f" d="M300 195L285 250L300 245L315 200ZM270 290L230 380L250 370L295 290ZM225 395L215 410"/>
<path class="f" d="M375 185Q350 200 345 260L330 340Q335 370 365 385L440 425Q470 435 490 410L525 290Q530 260 510 245L400 185ZM385 200Q365 260 360 340M440 210L400 400M480 230L440 420M440 215L480 225L485 260L445 255ZM452 228L472 233L474 250L455 246ZM400 340L440 350L442 390L402 385ZM412 352L432 357L433 378L414 374ZM480 455L515 460L518 495L482 492ZM490 465L508 468L509 486L492 484Z"/>
<path class="f" d="M560 290Q540 360 535 440Q545 500 600 530L680 560M600 300Q590 310 600 325L640 345L660 370L690 365L700 350M600 300L615 285L625 295"/>
<ellipse class="f" cx="678" cy="335" rx="16" ry="7" transform="rotate(15 678 335)"/>
<path class="f" d="M250 425L350 450L360 465L385 460L460 505L470 520L440 530L420 560L415 590L400 600M205 470L215 490L260 495L275 520M470 520L555 560L560 580L540 575L520 590L495 620L500 650L520 655L525 700M560 580L600 600L610 620L640 615L660 650M600 600L615 590L640 605"/>
<ellipse class="f" cx="203" cy="553" rx="14" ry="10"/>
<path class="f" d="M725 385Q735 375 745 385L730 480Q720 495 712 485ZM735 395L722 480"/>
<path class="f" d="M400 600L335 810L335 830L435 880L470 875L540 700M435 880L445 860L520 660M410 650Q420 635 445 640Q465 650 460 670L440 750Q425 765 405 755Q395 745 398 730ZM420 655L405 740"/>
<ellipse class="f" cx="398" cy="805" rx="11" ry="15"/>
<path class="f" d="M525 700L585 718M50 250L190 345M0 310L140 430M0 380L100 395L105 405L75 400M0 215L20 240"/>
<path class="f" d="M772 850L780 910L800 928L830 925L835 890L820 880M780 870L820 880L825 920M790 880L815 888L815 915L792 910Z"/>
</g>
<g id="wire" transform="translate(845,1690) scale(.5)">
<path d="M775 270Q770 248 752 245Q736 250 744 268L845 372Q856 392 838 410L505 578Q488 586 474 576L362 492Q348 478 360 469Q374 466 381 492" fill="none" stroke="#000" stroke-width="10" stroke-linecap="round" stroke-linejoin="round"/>
<path d="M775 270Q770 248 752 245Q736 250 744 268L845 372Q856 392 838 410L505 578Q488 586 474 576L362 492Q348 478 360 469Q374 466 381 492" fill="none" stroke="#fff" stroke-width="4.4" stroke-linecap="round" stroke-linejoin="round"/>
</g>
<defs><clipPath id="cpC"><path clip-rule="evenodd" d="M480 2540H845V2780H1325V3380H480ZM1225 3300V3380H1325V3300Z"/></clipPath></defs>
<g clip-path="url(#cpC)"><g id="frameC" transform="translate(480,2535) scale(.5)">
<!-- top-left bracket & upright -->
<path class="f" d="M225 45L260 0M225 45Q225 70 255 85L260 130L232 160Q230 178 250 180L320 170L345 120Q355 85 340 40L320 0M255 85L300 60L330 75M295 180L275 290M412 0L368 395M240 162L255 172"/>
<ellipse class="f" cx="288" cy="125" rx="12" ry="16"/>
<path class="f" d="M240 300L270 285L300 330Q320 360 345 350L330 420L275 455L185 385L195 330ZM240 300L280 370L275 455M280 370L345 350M210 420L210 450L275 475M290 400L335 385"/>
<ellipse class="f" cx="235" cy="385" rx="13" ry="18"/>
<!-- ear brackets + round tube -->
<path class="f" d="M245 625Q250 580 270 545L420 410L440 405M245 625L260 635L345 590L375 560Q370 520 390 490L430 450M240 610L252 605M440 405L435 450L545 525M440 405L480 398Q510 395 525 420L545 470L570 490L568 530M568 495L400 615Q388 640 390 720L405 738L565 690L568 680L520 650Q505 620 515 585L545 550M400 735L560 685M290 505L430 415"/>
<ellipse class="f" cx="300" cy="563" rx="13" ry="20" transform="rotate(15 300 563)"/>
<ellipse class="f" cx="500" cy="438" rx="12" ry="17" transform="rotate(-15 500 438)"/>
<ellipse class="f" cx="437" cy="635" rx="13" ry="20" transform="rotate(15 437 635)"/>
<path class="f" d="M548 545L960 812M520 655L890 880M548 545Q510 570 512 620Q515 650 525 655"/>
<!-- long square tube behind -->
<path class="f" d="M580 320L440 395M545 405L590 380M720 355L1195 650M700 390L1135 655M850 330L1000 420M570 420L600 400"/>
<!-- right-middle box bracket -->
<path class="f" d="M890 740L960 708L1062 772L1000 812ZM1000 812L885 900Q875 950 885 1000L900 1015L1010 985L1030 870L1062 845L1062 772M895 1005L1005 975M990 800L1050 765"/>
<ellipse class="f" cx="963" cy="747" rx="13" ry="18" transform="rotate(-20 963 747)"/>
<ellipse class="f" cx="930" cy="912" rx="13" ry="20" transform="rotate(15 930 912)"/>
<path class="f" d="M1005 1065Q1005 1010 1030 960Q1060 925 1100 920L1250 975M1005 1065L1020 1075L1110 1025L1140 985L1170 965M1100 920L1115 935L1240 985M1005 1050L1015 1048"/>
<ellipse class="f" cx="1063" cy="992" rx="13" ry="20" transform="rotate(15 1063 992)"/>
<!-- center-top complex bracket -->
<path class="f" d="M520 60L560 45L600 0M520 60Q540 75 545 100L800 260L830 215L800 200L870 160L820 80L760 0M545 100Q555 160 580 210Q560 230 550 250Q560 270 590 265L600 310L610 430L630 435L660 330Q680 270 730 260L740 300L710 380L690 390M600 180L600 270M612 180L608 270M560 120L830 290L855 305L855 355L845 360M800 260L850 300M410 110L470 85L500 60M420 30L450 50M690 260L640 290L625 330M655 350L648 400M570 130L700 215M870 160L905 200L905 230"/>
<ellipse class="f" cx="808" cy="143" rx="20" ry="14" transform="rotate(-20 808 143)"/>
<ellipse class="f" cx="680" cy="12" rx="14" ry="10"/>
<ellipse class="f" cx="452" cy="65" rx="11" ry="19" transform="rotate(25 452 65)"/>
<!-- curved tube -->
<path class="f" d="M870 190Q1000 300 1150 340M855 310Q1000 400 1155 440M965 270L1000 255L1040 265L1040 300M1140 350L1150 340L1185 385L1215 535L1195 540L1160 380Z"/>
<!-- upright tube w/ U end -->
<path class="f" d="M1070 0L1190 540L1230 760L1250 880Q1270 940 1310 948Q1345 940 1355 890L1290 590L1170 0"/>
<path class="f" d="M1110 1028Q1230 1085 1272 1170L1310 1290Q1330 1380 1365 1440M1265 960L1300 1240M1355 900L1400 1150L1440 1320M1365 1440Q1380 1370 1430 1335L1440 1310M1430 1295L1445 1335Q1490 1420 1560 1455Q1640 1470 1691 1450M1440 1330L1500 1500Q1530 1540 1580 1555M1365 1440L1375 1480Q1400 1580 1460 1650L1500 1691M1580 1555L1691 1490M1580 1555L1510 1590L1505 1691M1580 1555L1691 1620M1560 1520L1600 1530L1640 1500"/>
<g class="f"><ellipse cx="1520" cy="1418" rx="18" ry="12" transform="rotate(-15 1520 1418)"/><ellipse cx="1555" cy="1462" rx="18" ry="12" transform="rotate(-15 1555 1462)"/><ellipse cx="1622" cy="1465" rx="20" ry="12" transform="rotate(-15 1622 1465)"/><ellipse cx="1548" cy="1670" rx="13" ry="20" transform="rotate(-15 1548 1670)"/></g>
<!-- hook ring -->
<path class="f" d="M1085 680Q1090 660 1120 650L1270 555L1290 560L1300 620M1085 680Q1100 700 1130 690L1230 640Q1255 625 1245 610L1150 640M1270 555L1280 600M1175 570L1190 590L1210 580M1110 672Q1150 640 1240 620M1195 650L1200 700"/>
<!-- cross member -->
<path class="f" d="M1060 790L1200 720M1075 800L1180 745M1060 845L1080 800M1345 760L1390 790L1380 810M1040 850L1240 960L1260 940M1130 1025L1280 1110M1010 890Q1040 870 1060 845M1100 835L1125 820L1155 840L1130 858ZM1110 838L1128 828L1145 840M1100 920L1230 970M1380 850L1470 855L1460 865L1400 870M1240 960L1215 940L1340 880"/>
<g class="f"><ellipse cx="1195" cy="805" rx="50" ry="38" transform="rotate(-10 1195 805)"/><ellipse cx="1150" cy="888" rx="20" ry="15"/><ellipse cx="1075" cy="830" rx="14" ry="12"/><ellipse cx="1352" cy="775" rx="16" ry="10"/></g>
<!-- right tube + bracket -->
<path class="f" d="M1350 600L1640 462Q1670 470 1691 500M1345 635L1500 560M1340 740L1600 610M1430 685L1540 630M1500 700L1540 660L1560 625L1600 610Q1640 600 1665 620Q1675 660 1665 700L1555 815L1530 800L1520 760L1500 700M1600 625L1550 815M1310 600L1500 530L1510 540M1180 570L1350 600M1640 0Q1650 100 1645 240M1655 30L1648 240M1560 0Q1620 50 1640 120M1645 240L1640 460M1580 780Q1630 830 1691 835M1470 860Q1580 940 1691 940M1250 20Q1270 60 1280 60Q1300 20 1350 0M1290 0L1285 40M1380 590L1490 530"/>
<ellipse class="f" cx="1628" cy="660" rx="12" ry="20" transform="rotate(15 1628 660)"/>
</g></g>
<defs><clipPath id="cpL"><path d="M1000 2300H1325V2780H845V2540H1000Z"/></clipPath></defs>
<g clip-path="url(#cpL)"><g id="frameL" transform="translate(845,2300) scale(.28385)">
<!-- main diagonal rail -->
<path class="f" d="M255 0L445 105M420 0L975 345Q990 350 985 325Q990 308 1010 315L1100 335L1691 705M1290 435L1691 690"/>
<path class="f" d="M530 145L905 400L1335 740M538 162L900 412M1100 555L1340 738" style="stroke-width:4px"/>
<!-- gusset -->
<path class="f" d="M440 110L455 100L480 130Q520 160 510 180L450 185M435 110L560 590L575 600L600 580Q640 500 700 470L710 500M460 190L575 600"/>
<ellipse class="k" cx="545" cy="250" rx="17" ry="25" transform="rotate(-25 545 250)"/>
<!-- upright tube -->
<path class="f" d="M585 440Q580 340 620 310Q660 295 690 310L740 330Q790 360 800 420L840 500M680 315L690 400L740 640L725 730Q740 760 760 750L965 1691M500 150L560 590M570 600L775 1691M590 440Q600 520 600 580"/>
<!-- cross tube -->
<path class="f" d="M715 575L960 445M750 750L1095 565M830 400L850 490M900 395L960 445"/>
<!-- hanging bracket -->
<path class="f" d="M880 680L880 770Q890 790 905 780L915 680M930 650L920 920Q935 945 965 935L1000 800Q1010 720 1040 670Q1080 630 1130 650L1150 660L1100 850L1075 860L1060 830L985 890L970 930M1060 660L1050 830M940 650L960 680"/>
<ellipse class="k" cx="1005" cy="810" rx="12" ry="26" transform="rotate(15 1005 810)"/>
<!-- right -->
<path class="f" d="M1650 40L1630 880M1691 40L1655 30M1240 260L1691 10M1280 0L1210 380M1230 0L1130 330M1140 0L1035 320M1290 440L1590 290L1600 370L1600 400L1370 430M1340 460L1380 490L1370 430M1480 340L1550 310L1545 330M1410 790Q1500 850 1560 960L1600 1040M1620 1250L1600 1650L1691 1691M1600 1650L1500 1691"/>
<path class="f" d="M1610 900L1615 1250M1625 900L1630 1250" style="stroke-width:3.6px"/>
<!-- top-center plate hole bits -->
<path class="f" d="M650 0Q650 30 680 60L790 145Q820 155 840 130L880 0M690 80L790 135"/>
<ellipse class="f" cx="935" cy="97" rx="20" ry="28" style="stroke-width:5px"/>
<!-- left ear etc -->
<path class="f" d="M310 130Q320 100 370 85L420 100M310 130Q300 160 330 180L440 215M355 205Q340 240 300 260Q230 285 200 270Q190 250 200 230L280 30M210 0L90 380M320 240L380 270Q420 310 415 360L380 450L330 470L230 510L190 570M320 240L225 500M360 210L340 250M100 320L90 390Q110 440 160 470L180 520L140 630L0 720M0 420L100 320M0 540L160 470M0 390L110 310M235 510L70 890M190 570L60 870"/>
<ellipse class="f" cx="357" cy="390" rx="22" ry="40" transform="rotate(20 357 390)"/><path class="f" d="M340 400L375 375M342 415L375 392"/>
<ellipse class="f" cx="40" cy="495" rx="30" ry="22"/><ellipse class="f" cx="75" cy="610" rx="38" ry="55" transform="rotate(30 75 610)"/><path class="f" d="M45 630L105 590M50 650L100 615"/>
<!-- lower-left bar with hole -->
<path class="f" d="M0 840L260 1110L300 1180L305 1230L290 1245M70 890L240 1100L120 1180L0 1060M120 1180Q100 1200 115 1225L160 1275L150 1300L0 1200M180 1150L270 1240L300 1180M80 900L150 970L155 980"/>
<ellipse class="f" cx="137" cy="1075" rx="38" ry="30" transform="rotate(20 137 1075)"/><ellipse class="f" cx="140" cy="1080" rx="22" ry="16" transform="rotate(20 140 1080)"/>
<!-- curved tube lower-left -->
<path class="f" d="M195 1160Q300 1260 420 1320L720 1420M0 1290L200 1380Q350 1500 500 1560L760 1620M0 1320Q20 1400 100 1440L200 1470L250 1440L225 1380M415 1300L470 1275L520 1280L545 1310L550 1365L490 1350M720 1420L735 1480L790 1490L800 1520L830 1691M735 1480Q740 1540 770 1580L760 1691M0 1470L340 1691M480 1545L760 1691M0 1600L150 1691"/>
<path class="f" d="M0 1200L210 1370M0 1215L200 1380" style="stroke-width:3.6px"/>
</g></g>
<defs><clipPath id="cpD"><path d="M1325 2535H2170V3100H1880V3380H1410V3300H1325Z"/></clipPath></defs>
<g clip-path="url(#cpD)"><g id="frameD" transform="translate(1325,2535) scale(.5)">
<!-- main upper-left rail -->
<path class="f" d="M95 0L300 128M440 215L545 280M712 385L775 425M892 498L1548 905M1668 980L1691 995M0 47L960 655M1230 830L1691 1112"/>
<!-- clips -->
<path class="f" d="M290 140L320 70L385 32L445 88L440 120L410 180L380 175L375 160L355 185L345 150L330 130L300 150ZM320 70L380 115L445 88M380 115L360 180"/>
<ellipse class="f" cx="375" cy="82" rx="12" ry="9"/><ellipse class="f" cx="393" cy="148" rx="10" ry="15" transform="rotate(25 393 148)"/>
<path class="f" d="M540 305L605 265L712 330L712 380L700 375L700 340L640 375L640 420L610 410L605 385L580 370L575 385L545 365ZM540 305L640 372"/>
<ellipse class="f" cx="627" cy="313" rx="14" ry="9"/>
<path class="f" d="M772 462L830 422L892 458L892 485L880 480L880 465L830 500L830 530L775 500ZM772 462L830 500"/>
<ellipse class="f" cx="832" cy="452" rx="12" ry="8"/>
<path class="f" d="M1548 958L1605 915L1668 950L1668 990L1655 985L1655 965L1605 995L1605 1028L1550 995ZM1548 958L1605 995"/>
<ellipse class="f" cx="1607" cy="945" rx="12" ry="8"/>
<path class="f" d="M1488 45L1548 5L1608 42L1608 85L1595 80L1595 65L1548 95L1548 120L1490 85ZM1488 45L1548 95"/>
<ellipse class="f" cx="1548" cy="38" rx="12" ry="8"/>
<path class="f" d="M1495 145L1480 225Q1490 265 1525 262Q1545 255 1555 225L1570 185"/>
<ellipse class="f" cx="1515" cy="235" rx="10" ry="14"/>
<!-- far rail -->
<path class="f" d="M1280 0L1488 120M1608 190L1691 245M1460 0L1490 18M1608 85L1691 140M1675 240L1691 380M1330 0L1350 8"/>
<!-- perforated cross rail -->
<path class="f" d="M1170 675L1691 372M1170 675L1285 745L1691 505M1285 745L1330 775L1360 790Q1375 765 1400 760L1460 770Q1480 760 1490 740L1500 700L1691 590M1340 762L1691 560M1410 500Q1420 485 1450 490L1460 500"/>
<g class="f"><ellipse cx="1305" cy="650" rx="30" ry="19" transform="rotate(-15 1305 650)"/><ellipse cx="1388" cy="600" rx="30" ry="19" transform="rotate(-15 1388 600)"/><ellipse cx="1468" cy="552" rx="30" ry="19" transform="rotate(-15 1468 552)"/><ellipse cx="1553" cy="505" rx="30" ry="19" transform="rotate(-15 1553 505)"/><ellipse cx="1635" cy="458" rx="30" ry="19" transform="rotate(-15 1635 458)"/>
<path d="M1285 660L1325 640M1368 610L1408 590M1448 562L1488 542M1533 515L1573 495M1615 468L1655 448" stroke-width="5"/>
<ellipse cx="1338" cy="725" rx="13" ry="24" transform="rotate(30 1338 725)"/><ellipse cx="1393" cy="690" rx="13" ry="24" transform="rotate(30 1393 690)"/><ellipse cx="1475" cy="645" rx="13" ry="24" transform="rotate(30 1475 645)"/><ellipse cx="1558" cy="597" rx="13" ry="24" transform="rotate(30 1558 597)"/><ellipse cx="1640" cy="550" rx="13" ry="24" transform="rotate(30 1640 550)"/><ellipse cx="1452" cy="737" rx="12" ry="9"/></g>
<ellipse class="k" cx="1250" cy="681" rx="12" ry="8"/>
<!-- front down tube -->
<path class="f" d="M62 90Q50 300 55 430Q70 580 150 700Q250 810 420 875L520 895Q700 920 800 975M0 600L45 640L130 860Q160 920 230 930L370 945M45 640Q80 670 120 655L125 640M45 640L55 625M0 835L95 850M0 955L370 990M150 700Q170 760 180 900"/>
<path class="f" d="M370 930L370 1000L560 1050Q600 1080 610 1110M370 930L420 890L480 892L470 920L380 935M480 892L640 915L790 970M470 920L700 990L715 995L715 1050M420 890Q440 900 430 925"/>
<g class="f"><ellipse cx="578" cy="985" rx="20" ry="14"/><ellipse cx="645" cy="1005" rx="20" ry="14"/><ellipse cx="655" cy="1045" rx="18" ry="12"/></g>
<!-- tube clamp center -->
<path class="f" d="M590 1130L680 1045L700 1050Q740 1070 750 1110Q750 1140 730 1170L705 1195L705 1225L730 1265L790 1225L785 1205M680 1045L690 1035M590 1130Q640 1110 660 1160L670 1230M560 1155Q600 1190 610 1250M560 1155L590 1130M718 1205L745 1192L770 1210L742 1225ZM725 1210L745 1200L760 1212M705 1195L780 1160L785 1175M600 1120L690 1040" />
<ellipse class="f" cx="708" cy="1112" rx="18" ry="25" transform="rotate(-15 708 1112)"/>
<!-- center box -->
<path class="f" d="M795 965L850 928L1020 1020M795 965L870 1020Q930 1030 960 1060L1030 1105M835 1005L835 1120L1050 1245M720 1060L835 1005M835 1120L780 1150M850 928Q900 960 960 990Q975 1010 1010 1015"/>
<!-- horizontal round tube + left clamp -->
<path class="f" d="M240 1335L590 1135M280 1450L610 1250M75 1395L195 1320L215 1315Q260 1340 270 1380Q270 1420 250 1450L240 1490L260 1530L190 1580L160 1560L80 1565L70 1555L160 1520M0 1470L190 1330M150 1385Q200 1400 210 1460L215 1510M0 1530L150 1390M160 1525L190 1510L218 1528L190 1545ZM170 1525L190 1517L205 1528M85 1400L200 1325"/>
<ellipse class="f" cx="240" cy="1385" rx="16" ry="24" transform="rotate(-15 240 1385)"/>
<!-- floor rails -->
<path class="f" d="M500 1300L1105 1650M475 1335L1080 1691M600 1255L500 1300M0 1590L150 1691M0 1620L100 1691M1180 1300L1500 1480M500 1300L475 1335"/>
<!-- right upright with gusset -->
<path class="f" d="M960 655L975 660Q990 700 1010 715L1030 690L1225 825L1215 830L1120 790Q1060 790 1045 850L1040 930Q1030 970 1025 975ZM1010 715Q1040 720 1030 690M965 670L1020 960M1020 980L1070 1300L1140 1691M1030 1000L1080 1310L1150 1691M1095 840Q1100 1000 1130 1150L1175 1340Q1200 1420 1250 1490M1120 790Q1095 800 1095 840M1095 1380Q1100 1365 1130 1365L1180 1370M1100 1380L1140 1691M1250 1490L1310 1455M1190 1400Q1240 1420 1300 1415M1040 930Q1080 900 1095 880"/>
<ellipse class="f" cx="1030" cy="755" rx="10" ry="15" transform="rotate(-20 1030 755)"/>
<ellipse class="f" cx="1237" cy="1445" rx="10" ry="14"/>
<path class="f" d="M1150 1155L1175 1160L1220 1185L1215 1225L1185 1240L1170 1230L1165 1165"/>
<ellipse class="f" cx="1192" cy="1208" rx="10" ry="13"/>
<!-- right-bottom complex -->
<path class="f" d="M1545 1180L1580 1140L1620 1145L1660 1215L1691 1200M1545 1180L1570 1280L1630 1260L1600 1150M1560 1185L1575 1170M1555 1200L1580 1190M1250 1480L1500 1330Q1530 1320 1545 1350Q1555 1390 1540 1410L1300 1530L1290 1480M1540 1350L1691 1270M1560 1410L1691 1340M1545 1350Q1570 1340 1575 1370Q1575 1400 1555 1415M1300 1530L1500 1640M1295 1480L1380 1440M1360 1490Q1350 1530 1380 1560L1500 1610M1380 1560L1450 1520L1650 1620M1500 1640L1691 1540M1500 1640L1560 1691M1590 1420L1691 1480M1250 1680Q1290 1650 1320 1650L1380 1680M1660 1440L1691 1460M1655 1470L1691 1450M1520 1340L1510 1420M1400 1575L1691 1420"/>
<ellipse class="f" cx="1615" cy="1225" rx="10" ry="13"/>
</g></g>
<defs><clipPath id="cpE"><path d="M2170 2535H3015V3380H2480V3100H2170Z"/></clipPath></defs>
<g clip-path="url(#cpE)"><g id="frameE" transform="translate(2170,2535) scale(.5)">
<!-- far rail -->
<path class="f" d="M0 140L575 510M690 584L1062 824M1350 1010L1655 1206M250 413L1062 940M1205 1032L1560 1262"/>
<path class="f" d="M570 540L630 500L690 537L690 578L678 572L678 555L630 585L630 615L572 580ZM570 540L630 585"/>
<ellipse class="f" cx="630" cy="533" rx="12" ry="8"/>
<!-- bracket on far rail -->
<path class="f" d="M1060 785L1130 738L1180 765L1310 830L1310 860L1285 880L1290 895L1345 925Q1360 945 1345 965L1310 982L1280 975L1215 940L1190 945L1160 920L1130 850L1110 820L1105 810ZM1060 785L1060 900L1200 995L1205 945M1105 815L1100 870M1100 830L1045 838Q1030 845 1030 855Q1035 865 1048 862L1100 852M1105 810L1180 765M1215 950L1345 975"/>
<g class="f"><ellipse cx="1120" cy="768" rx="14" ry="10"/><ellipse cx="1172" cy="775" rx="9" ry="7"/><ellipse cx="1138" cy="793" rx="9" ry="7"/><ellipse cx="1188" cy="828" rx="35" ry="24"/><ellipse cx="1190" cy="831" rx="22" ry="14"/><ellipse cx="1268" cy="830" rx="9" ry="7"/><ellipse cx="1213" cy="893" rx="10" ry="8"/><ellipse cx="1270" cy="912" rx="25" ry="16"/><ellipse cx="1308" cy="935" rx="10" ry="8"/><ellipse cx="1125" cy="895" rx="20" ry="38" transform="rotate(-20 1125 895)"/><path d="M1260 925L1290 905" stroke-width="5"/></g>
<!-- perforated rail end -->
<path class="f" d="M0 372L155 288L242 346L0 482M235 420L242 346M235 420L0 560M0 578L60 550Q100 560 140 550Q160 530 155 505Q180 480 230 470L300 470Q310 465 300 455L250 425L235 420M40 330L40 310L75 300M0 245Q20 265 30 285"/>
<g class="f"><ellipse cx="162" cy="332" rx="12" ry="9"/><ellipse cx="110" cy="365" rx="28" ry="18" transform="rotate(-15 110 365)"/><ellipse cx="22" cy="412" rx="25" ry="16" transform="rotate(-15 22 412)"/><ellipse cx="172" cy="428" rx="14" ry="22" transform="rotate(25 172 428)"/><ellipse cx="115" cy="460" rx="14" ry="22" transform="rotate(25 115 460)"/><ellipse cx="35" cy="503" rx="14" ry="22" transform="rotate(25 35 503)"/><ellipse cx="120" cy="527" rx="12" ry="9"/><path d="M95 375L130 355M5 420L40 402M105 475L125 445" stroke-width="5"/></g>
<!-- vertical tube + bracket -->
<path class="f" d="M25 580L90 1080M125 565L215 1150M90 1080L90 1200M155 1080L160 1130M175 925Q165 960 170 1000L210 1140"/>
<path class="f" d="M140 790L150 770L200 755L325 748L335 760Q350 775 345 790L320 800L300 830L165 870L150 860ZM140 790L305 825"/>
<g class="f"><ellipse cx="228" cy="773" rx="28" ry="18"/><ellipse cx="297" cy="778" rx="14" ry="9"/><ellipse cx="175" cy="828" rx="12" ry="10"/></g>
<path class="f" d="M65 980L110 955L110 940L130 930L140 1010L120 1020L118 1005L85 1025L80 1030Z"/>
<ellipse class="f" cx="97" cy="993" rx="10" ry="13"/>
<!-- near rail -->
<path class="f" d="M0 1012L340 1230M510 1340L560 1372M665 1440L960 1630M0 1130L455 1425M640 1560L860 1691M0 1178L200 1300"/>
<!-- bracket near -->
<path class="f" d="M345 1190L410 1150L460 1172L475 1160L500 1150L510 1165L490 1180L655 1215L680 1240L740 1280Q755 1300 740 1320L700 1335L600 1300L550 1295L525 1310L490 1290L460 1250L430 1215L395 1220ZM345 1190L345 1320L470 1405L495 1385L495 1330L510 1300M395 1220L385 1300M550 1295L560 1340M250 1175L330 1170L345 1190M395 1220L460 1175M525 1320L600 1310L700 1345"/>
<g class="f"><ellipse cx="405" cy="1183" rx="14" ry="10"/><ellipse cx="455" cy="1188" rx="9" ry="7"/><ellipse cx="425" cy="1207" rx="9" ry="7"/><ellipse cx="498" cy="1222" rx="35" ry="24"/><ellipse cx="500" cy="1225" rx="22" ry="14"/><ellipse cx="637" cy="1228" rx="12" ry="9"/><ellipse cx="520" cy="1262" rx="10" ry="8"/><ellipse cx="660" cy="1265" rx="25" ry="16"/><ellipse cx="703" cy="1285" rx="10" ry="8"/><ellipse cx="410" cy="1310" rx="24" ry="40" transform="rotate(-15 410 1310)"/><ellipse cx="367" cy="1242" rx="10" ry="13"/><ellipse cx="293" cy="1190" rx="12" ry="9"/><path d="M650 1275L680 1258M485 1232L515 1215" stroke-width="5"/></g>
<!-- box clamp near -->
<path class="f" d="M470 1475L560 1400L665 1470L580 1560ZM470 1475L455 1500L450 1580L490 1620L575 1650L580 1560M665 1470L660 1510L625 1545L590 1560M575 1650L640 1610L660 1560M580 1540L650 1495L660 1510L590 1555"/>
<ellipse class="f" cx="557" cy="1478" rx="20" ry="14"/><ellipse class="f" cx="512" cy="1572" rx="12" ry="20" transform="rotate(-15 512 1572)"/>
<!-- right bracket -->
<path class="f" d="M865 1460L945 1420L1020 1375Q1060 1350 1110 1360Q1140 1375 1135 1400L1110 1425L1100 1440L1105 1525L960 1530L945 1510L865 1475ZM945 1420L1030 1470L1040 1525M1030 1470L1100 1420M1000 1535L1000 1691M1110 1530L1110 1691M870 1470L950 1500"/>
<ellipse class="f" cx="948" cy="1448" rx="20" ry="12"/>
<!-- bottom-left stuff -->
<path class="f" d="M0 1230Q60 1210 100 1215L200 1270M0 1290Q50 1280 90 1290M200 1270L205 1300L215 1345L250 1360L280 1345L285 1320L250 1300ZM165 1335L180 1325L430 1490L450 1500M170 1345L440 1520M0 1350Q40 1330 80 1335Q150 1340 170 1345M0 1400Q20 1360 60 1345M60 1355Q80 1360 75 1385L55 1400Q60 1450 50 1470L0 1480M130 1340L150 1500L175 1691M185 1360Q200 1420 260 1450L380 1480M240 1400L270 1691M230 1560L330 1600L330 1691M250 1520L300 1490M0 1560L100 1530L150 1540M0 1640L60 1600M100 1530L110 1560M860 1691L960 1620L990 1620M900 1691L970 1640M640 1610L760 1691M600 1640L680 1691"/>
<ellipse class="f" cx="233" cy="1330" rx="10" ry="13"/><ellipse class="f" cx="68" cy="1362" rx="8" ry="10"/>

</g></g>
<g id="frameF" transform="translate(2778,2957) scale(.2496)">
<path class="f" d="M760 835L950 715L990 745L985 1015L940 995L770 860Q755 850 760 835M820 790Q880 830 930 790L960 740M790 870L935 975M920 960Q930 930 985 935M985 740L1000 745"/>
<path class="f" d="M1020 360L985 1010L960 1400L910 1691M1215 380L1215 520L1230 540L1210 900M1200 1145L1185 1440L1140 1691"/>
<path class="f" d="M995 280Q990 320 1020 350Q1100 380 1180 350Q1240 320 1250 300M995 280Q1020 240 1090 200L1200 145L1250 135M1020 360Q1100 392 1200 345L1240 310L1250 350L1225 380"/>
<path class="f" d="M1255 110L1410 10L1435 5L1585 80L1595 100L1590 150L1420 350L1360 380L1365 250M1255 110Q1250 125 1265 140L1420 185L1585 85M1420 185L1415 350M1240 305L1365 250L1440 260M1225 520L1360 380M1330 160L1400 180M1470 150L1540 110"/>
<ellipse class="f" cx="1412" cy="90" rx="45" ry="28"/><ellipse class="f" cx="1412" cy="98" rx="30" ry="15"/>
<path class="f" d="M1100 965L1225 910L1375 1010L1375 1040L1240 1105L1080 1190L1070 1170L1080 1020Q1085 980 1100 965ZM1100 965L1230 1070L1375 1010M1230 1070L1240 1105M1210 900Q1200 940 1150 955L1100 965M1250 1085L1350 1040L1345 1025"/>
<ellipse class="f" cx="1255" cy="1003" rx="45" ry="28"/><ellipse class="f" cx="1255" cy="1010" rx="30" ry="15"/>
<path class="f" d="M920 1691L975 1575L1010 1565L1120 1580L1110 1691M1000 1580L980 1691M1030 1660Q1050 1640 1075 1660L1070 1691M1150 1660L1260 1650L1300 1691M480 1691Q540 1650 600 1660L660 1691M960 1600L940 1691"/>
</g>
<defs><clipPath id="cpG"><path d="M1000 3380H1225V3300H1410V3380H1845V4134H1000Z"/></clipPath></defs>
<g clip-path="url(#cpG)"><g id="frameG" transform="translate(1000,3289) scale(.5)">
<path class="f" d="M465 95L540 50L560 45Q600 55 640 90Q680 130 720 135L800 190L800 205L765 215L765 235L785 245L785 290L770 300L770 320L740 340L465 180ZM570 150Q578 170 570 188L570 243M628 180Q636 192 625 204L630 277M465 95L740 255L740 340M740 255L800 205M480 100L745 250"/>
<ellipse class="f" cx="508" cy="163" rx="14" ry="20" transform="rotate(-20 508 163)"/><ellipse class="f" cx="685" cy="265" rx="14" ry="20" transform="rotate(-20 685 265)"/>
<path class="f" d="M655 88L1420 522M800 198L1335 538M790 298L1278 588"/>
<path class="f" d="M1275 590L1290 560L1330 540L1365 522L1440 565Q1470 600 1530 610L1645 650L1645 665L1610 680L1615 705L1640 715L1640 750L1620 770L1615 790L1560 828L1275 665ZM1290 565L1400 625Q1430 625 1450 650L1560 715L1560 828M1560 715L1610 680M1295 578L1560 730"/>
<ellipse class="f" cx="1328" cy="643" rx="15" ry="21" transform="rotate(-20 1328 643)" style="stroke-width:4.5px"/><ellipse class="f" cx="1505" cy="745" rx="15" ry="21" transform="rotate(-20 1505 745)" style="stroke-width:4.5px"/>
<path class="f" d="M1420 520L1691 365M1440 565L1691 420M1510 575L1691 470M1515 510Q1520 495 1545 485L1620 455Q1640 455 1640 465Q1630 485 1610 490L1540 520Q1520 525 1515 510M1550 505L1570 480M1580 610Q1620 640 1691 655M1610 600Q1640 585 1691 580M1640 760L1691 770M1691 400Q1680 410 1685 425M1420 0L1691 155M1500 0L1691 110M1590 0L1691 55"/>
<ellipse class="f" cx="1628" cy="548" rx="17" ry="28" transform="rotate(25 1628 548)"/>
</g></g>
<defs><clipPath id="cpH"><path d="M1845 3380H1880V3700H2480V3380H2690V3700H2600V4134H1845Z"/></clipPath></defs>
<g clip-path="url(#cpH)"><g id="frameH" transform="translate(1845,3289) scale(.5)">
<!-- left vertical tube + flares + lower rail -->
<path class="f" d="M65 0L155 560M205 200Q215 300 250 530M205 200Q210 160 250 150L290 145M100 0L135 320Q170 330 205 300M155 540Q150 600 160 640Q140 680 100 665L75 745L180 750Q200 740 210 720M185 540L200 700Q210 730 240 735M205 550Q230 570 250 550L265 560Q260 620 300 670Q330 700 350 690L370 675L390 765L300 760L250 740M265 560L270 600Q290 680 340 700M100 665Q130 700 180 720M0 655L100 665M155 545Q170 530 185 540"/>
<path class="f" d="M370 677Q520 685 640 745L1060 1040M0 765L400 790Q520 810 610 865L1020 1115M1250 1135L1691 1415M1180 1275L1640 1565"/>
<!-- perforated cross rail left -->
<path class="f" d="M0 340L210 215M0 400L120 335M240 320L340 265M0 555L150 465M250 410L435 295M220 265L250 275Q230 300 200 310M30 380Q60 350 100 360"/>
<g class="f"><ellipse cx="270" cy="355" rx="20" ry="30" transform="rotate(25 270 355)"/><ellipse cx="100" cy="455" rx="20" ry="30" transform="rotate(25 100 455)"/><ellipse cx="20" cy="490" rx="20" ry="30" transform="rotate(25 20 490)"/><path d="M70 380L110 360M10 415L40 395" stroke-width="5"/></g>
<!-- flat bar + upper long rail -->
<path class="f" d="M290 135L300 150L320 225L560 375L605 355L600 345L330 180ZM300 150L590 350M430 105L955 438M1250 625L1691 905M605 362L760 462M1035 640L1691 1052M420 105L430 130Q440 180 420 210M470 90L700 40L720 60L560 170M490 125Q500 110 530 100L600 75M700 40Q720 100 760 130L820 150M600 220Q700 180 800 190M820 200Q825 300 845 340"/>
<ellipse class="f" cx="600" cy="165" rx="18" ry="28" transform="rotate(25 600 165)"/>
<path class="f" d="M690 205L690 330" style="stroke-width:5px"/><path class="f" d="M690 210L715 210L715 265L695 265"/>
<!-- center upright tube -->
<path class="f" d="M800 0L830 160Q835 180 860 190M905 0L935 130L975 420M830 160L870 370Q900 350 940 365M870 385Q900 360 950 375Q975 395 975 420M880 380Q920 370 960 400M860 190Q900 195 930 160M985 80L990 180L975 175"/>
<!-- brackets mid -->
<path class="f" d="M760 510L800 480L820 478L840 500L860 570Q850 600 820 610L760 625Q735 615 740 580ZM840 500L900 545L905 600L940 580M905 600L900 650L885 690Q890 715 915 718L1000 680L1030 670L1035 640L1000 600L950 570M1000 600L1005 680M955 465L1105 420L1120 430L1125 470L1145 490L1190 500L1200 520L1160 545L1130 580L1175 605L1245 505L1225 510L1130 575M955 465L990 490L1110 430M990 490L1020 480L1030 500"/>
<g class="f"><ellipse cx="790" cy="572" rx="12" ry="18" transform="rotate(20 790 572)"/><ellipse cx="932" cy="665" rx="12" ry="18" transform="rotate(20 932 665)"/><ellipse cx="1140" cy="522" rx="18" ry="12"/></g>
<!-- center bottom cross member -->
<path class="f" d="M930 900L1150 800L1180 780L1230 790L1240 810L1290 820L1340 850M985 960L1340 850M1000 975L1350 865M1020 985L1360 880M1100 1040L1450 940M1120 1060L1440 960M1160 1080L1420 1010M880 890L930 900L985 960L1000 980M890 895L990 975M1310 890Q1320 940 1380 945Q1430 940 1450 910M1340 880Q1360 920 1400 915M1185 790L1210 778L1235 795L1210 808ZM1150 800L1160 830L1210 850L1240 810M1050 850L1050 890L1065 885L1065 850L1100 835L1105 880L1090 895M1340 850L1480 930"/>
<g class="f"><ellipse cx="1235" cy="930" rx="35" ry="24" transform="rotate(-10 1235 930)"/><ellipse cx="1185" cy="985" rx="35" ry="24" transform="rotate(-10 1185 985)"/></g>
<!-- ears lower center -->
<path class="f" d="M1020 1175L1015 1120Q1020 1070 1060 1040L1085 1035L1110 1060L1115 1100L1070 1160L1040 1170L1030 1175ZM1160 1180Q1170 1140 1200 1125L1235 1130L1250 1150L1245 1200L1225 1235L1280 1265L1280 1280L1190 1275L1170 1250ZM1110 1060L1230 1130M1120 1100L1165 1130M1225 1235L1185 1275"/>
<g class="f"><ellipse cx="1065" cy="1087" rx="12" ry="18" transform="rotate(20 1065 1087)"/><ellipse cx="1195" cy="1172" rx="12" ry="18" transform="rotate(20 1195 1172)"/></g>
<!-- right ears -->
<path class="f" d="M1435 1040Q1440 990 1465 960L1500 925L1525 950L1580 985L1585 1020L1560 1050L1480 1080Q1445 1075 1435 1040M1580 985L1640 1020L1691 1050M1585 1020L1600 1060Q1580 1100 1585 1140Q1600 1165 1630 1155L1691 1120M1500 925L1545 950M1380 1225L1560 1120M1400 1245L1580 1150"/>
<g class="f"><ellipse cx="1470" cy="1020" rx="12" ry="18" transform="rotate(20 1470 1020)"/><ellipse cx="1622" cy="1108" rx="12" ry="18" transform="rotate(20 1622 1108)"/></g>
<path class="f" d="M1545 1310L1580 1280L1620 1265L1650 1285L1670 1330L1691 1335M1545 1310L1590 1335L1585 1360M1640 1370L1630 1400L1691 1420M1691 1430Q1640 1450 1625 1500L1630 1550L1660 1575L1691 1575"/>
<g class="f"><ellipse cx="1628" cy="1312" rx="14" ry="20" transform="rotate(-15 1628 1312)"/><ellipse cx="1668" cy="1485" rx="12" ry="18" transform="rotate(20 1668 1485)"/></g>
<!-- right-top -->
<path class="f" d="M1230 125L1290 100L1691 330M1310 20L1691 240M1330 165L1335 270Q1360 280 1390 260L1400 165M1410 240L1500 180L1540 150L1640 110L1640 220L1535 300L1530 340L1480 330L1430 300L1415 270ZM1535 300L1640 290M1510 375Q1520 390 1530 375M1420 245L1535 310M1655 0L1640 560M1691 300L1685 330"/>
<ellipse class="f" cx="1497" cy="322" rx="16" ry="11"/>
<path class="f" d="M1555 610L1620 565L1640 575L1650 600L1691 620M1555 610L1560 660L1525 690Q1520 730 1545 740L1600 720L1640 690L1650 640M1600 720Q1580 760 1590 800L1545 810L1550 840L1691 900M1640 740Q1630 780 1650 800L1691 790M1670 800L1680 900"/>
<g class="f"><ellipse cx="1565" cy="692" rx="12" ry="18" transform="rotate(20 1565 692)"/><ellipse cx="1607" cy="770" rx="10" ry="16" transform="rotate(20 1607 770)"/><ellipse cx="1660" cy="765" rx="10" ry="15" transform="rotate(20 1660 765)"/></g>
</g></g>
<defs><clipPath id="cpI"><path d="M2690 3380H3200V3700H2690Z"/></clipPath></defs>
<g clip-path="url(#cpI)"><g id="frameI" transform="translate(2355,3289) scale(.5)">
<!-- rear-left upright -->
<path class="f" d="M635 20L618 430Q618 520 640 590M650 800L655 880L690 1260Q700 1310 730 1350L800 1470M745 20L722 330M722 480Q725 560 740 640M750 880L790 1190Q800 1250 840 1320L890 1420"/>
<path class="f" d="M690 235L750 200L820 240L815 265L770 290L690 340L675 330L685 250ZM690 235L760 275L820 240M760 275L770 290M725 330L820 385"/>
<ellipse class="f" cx="765" cy="240" rx="18" ry="12"/>
<path class="f" d="M705 700L790 650L805 660L815 820L740 880L655 880M705 700L720 880M790 650L800 640M640 600L690 630L700 620L720 640M650 690L700 720"/>
<g class="f"><ellipse cx="765" cy="722" rx="15" ry="24" transform="rotate(20 765 722)"/><ellipse cx="775" cy="810" rx="15" ry="24" transform="rotate(20 775 810)"/><ellipse cx="690" cy="808" rx="20" ry="28" transform="rotate(-20 690 808)"/><path d="M675 800L705 818"/></g>
<!-- right rear upright curved tube -->
<path class="f" d="M1440 0Q1440 200 1400 480Q1345 800 1270 1010Q1245 1080 1220 1110M1330 0Q1320 130 1280 280M1260 520Q1235 720 1180 900Q1110 1110 1010 1310"/>
<!-- cross tube with clips -->
<path class="f" d="M930 440L1012 392M1128 328L1228 274M880 580L1280 345M822 465L880 425L935 455L935 500L925 495L880 525L880 535L825 505ZM822 465L880 497M1012 352L1070 312L1128 345L1128 385L1118 380L1070 410L1070 420L1015 390ZM1012 352L1070 384M740 480L745 590Q760 620 790 610L850 590M790 610L800 580L840 560M1230 290Q1240 320 1270 345L1330 315L1335 250L1290 260M750 490Q790 500 820 520"/>
<path class="k" d="M795 598L835 575L840 585L800 607ZM1255 320L1300 295L1305 305L1260 330Z"/>
<ellipse class="f" cx="878" cy="455" rx="12" ry="8"/><ellipse class="f" cx="1070" cy="343" rx="12" ry="8"/>
<!-- top right brackets -->
<path class="f" d="M1070 210L1105 170L1150 158L1290 225L1275 255L1230 270L1190 262L1100 225ZM1070 210L1090 245L1190 275"/>
<ellipse class="f" cx="1130" cy="195" rx="12" ry="8"/><ellipse class="f" cx="1205" cy="230" rx="40" ry="20" transform="rotate(15 1205 230)"/><path class="f" d="M1180 220L1230 242"/>
<path class="f" d="M1340 125L1410 120L1400 290M1340 125L1330 250M1365 150Q1370 140 1385 145L1380 210Q1370 220 1360 210ZM1420 165L1480 155L1500 165L1495 220L1525 235L1525 270L1460 330L1455 480L1370 520L1260 515L1280 380L1320 240M1380 310L1460 280M1380 310L1370 520M1280 380L1300 365"/>
<g class="f"><ellipse cx="1490" cy="268" rx="10" ry="14"/><ellipse cx="1415" cy="350" rx="14" ry="20" transform="rotate(20 1415 350)"/><ellipse cx="1405" cy="445" rx="12" ry="18" transform="rotate(20 1405 445)"/><ellipse cx="1310" cy="435" rx="18" ry="26" transform="rotate(-15 1310 435)"/><path d="M1400 355L1430 345"/></g>
<!-- center bracket -->
<path class="f" d="M880 800L900 770L1060 700L1140 745L1135 790L1200 830M880 800Q875 850 900 880L930 960Q960 985 990 975L1050 950L1060 900L1110 875L1140 950L1170 900M940 830L1050 770L1060 720M940 830L950 870L1010 905L1020 880L1120 820L1135 790M1050 770L1120 820M930 960L925 890L940 830M1160 850L1180 840L1170 890"/>
<ellipse class="f" cx="960" cy="922" rx="12" ry="20" transform="rotate(-15 960 922)"/>
<!-- back lines -->
<path class="f" d="M940 570L1000 700M900 545L1200 715M1000 480L1210 610M1135 550L1145 580M780 1010L1180 1240M790 1060L1050 1210M800 1160L950 1245"/>
<!-- lower-mid ears -->
<path class="f" d="M865 1130Q870 1110 900 1110L930 1125L945 1170L1010 1140L1050 1155L1060 1210M865 1130L870 1180L940 1230L945 1170M1010 1140L1010 1200M940 1230L970 1242"/>
<ellipse class="f" cx="905" cy="1155" rx="14" ry="20" transform="rotate(-20 905 1155)"/><path class="f" d="M893 1150L918 1162"/>
<!-- bottom assembly -->
<path class="f" d="M600 1520Q600 1470 630 1440L700 1400L715 1370L720 1400L730 1500L700 1560L640 1590L615 1570ZM620 1320L615 1380Q640 1400 680 1380L700 1400M610 1345L640 1340L640 1380M640 1590L720 1600L740 1690L735 1700M730 1500Q760 1480 790 1490L800 1470M740 1690Q720 1660 740 1630L760 1600L800 1570L840 1480L830 1440M800 1570L850 1600L900 1590M735 1700L760 1705L900 1600M800 1390L815 1370L880 1420L890 1520L870 1530M800 1390L810 1480M830 1390L840 1480L870 1530"/>
<g class="f"><ellipse cx="652" cy="1510" rx="12" ry="18" transform="rotate(20 652 1510)"/><ellipse cx="782" cy="1582" rx="12" ry="20" transform="rotate(20 782 1582)"/></g>
<ellipse class="f" cx="930" cy="1565" rx="31" ry="45" transform="rotate(20 930 1565)" style="stroke-width:5px"/>
<ellipse class="f" cx="1262" cy="1375" rx="37" ry="48" transform="rotate(20 1262 1375)" style="stroke-width:5px"/>
<path class="f" d="M945 1522L1235 1340M960 1608L1290 1418M940 1400L1000 1330L1190 1290L1230 1300M890 1420L940 1400M1000 1330L1040 1420L1100 1385L1190 1290M1040 1420L1060 1445M1100 1385L1110 1400L1230 1340M1200 1130L1230 1120L1300 1165L1290 1210L1335 1195Q1365 1210 1365 1250L1340 1300L1300 1310L1280 1300M1220 1290L1280 1170M1160 1290L1230 1120M1010 1320L960 1400"/>
<g class="f"><ellipse cx="965" cy="1425" rx="50" ry="31"/><ellipse cx="965" cy="1428" rx="25" ry="14"/><path d="M915 1430L915 1455Q965 1490 1015 1455L1015 1430"/><ellipse cx="1135" cy="1330" rx="48" ry="29"/><ellipse cx="1135" cy="1333" rx="24" ry="13"/><path d="M1087 1335L1087 1360Q1135 1392 1183 1360L1183 1335"/><ellipse cx="1090" cy="1445" rx="10" ry="14"/><ellipse cx="1325" cy="1250" rx="12" ry="18" transform="rotate(20 1325 1250)"/></g>
</g></g>
<defs><clipPath id="cpM"><rect x="1880" y="3100" width="600" height="600"/></clipPath></defs>
<g clip-path="url(#cpM)"><g id="frameM" transform="translate(1880,3100) scale(.35482)">
<!-- left upright + flares -->
<path class="f" d="M40 0L85 250Q105 350 140 420Q170 480 210 515M0 340Q60 335 100 370L120 385M0 470L125 1290L150 1440M30 470L100 985Q130 1000 160 985Q190 960 205 930M190 800Q185 760 205 748Q250 728 300 738M190 800L205 930L265 1300M125 1290Q140 1280 155 1295L160 1440Q140 1480 100 1470L50 1460M185 1310Q220 1330 265 1300M185 1310L190 1480Q200 1530 240 1540M265 1300Q280 1400 330 1460Q370 1490 400 1480L420 1470L450 1570L330 1590Q280 1570 250 1540M265 1340Q290 1440 350 1500L380 1510M50 1460L10 1570L130 1580Q170 1570 185 1540M100 1470Q140 1520 185 1545M115 1300L130 1420Q120 1450 80 1455M420 1472Q600 1480 720 1540L960 1691M0 1600L350 1625Q500 1640 640 1691"/>
<ellipse class="f" cx="178" cy="440" rx="14" ry="16"/>
<!-- small clip top-left -->
<path class="f" d="M45 30L90 40L95 60L120 65L155 75L150 140L125 150L120 135L95 145L90 150M155 120L540 288M85 250L290 420"/>
<ellipse class="f" cx="115" cy="103" rx="13" ry="18" style="stroke-width:4.5px"/>
<!-- perforated cross rail (bottom-left) -->
<path class="f" d="M0 990L300 850M0 1260L520 960M210 1000L420 885M0 1090L80 1050M210 920Q230 900 290 895Q310 900 300 920L220 960"/>
<g class="f"><ellipse cx="280" cy="1035" rx="30" ry="45" transform="rotate(25 280 1035)"/><ellipse cx="45" cy="1170" rx="30" ry="45" transform="rotate(25 45 1170)"/><ellipse cx="25" cy="1050" rx="30" ry="22"/></g>
<!-- rectangular loop -->
<path class="f" d="M190 490L545 285M260 495L560 330M200 505L260 530L260 495M190 505L300 580L545 690M575 400L420 470Q350 500 350 540Q360 580 400 600L560 690M400 570L600 450M545 285Q580 300 590 340Q595 380 575 400M600 290Q640 300 650 340Q655 380 635 400L600 410M575 400L600 410M590 300L610 290M560 275L905 115L960 110M610 295L930 180Q1000 170 1060 200L1110 240M650 390L900 290Q960 270 1010 290L1060 300M905 115L1150 235L1200 260M660 400L680 440L780 480"/>
<!-- top bracket -->
<path class="f" d="M610 70L660 15L690 10L750 110L760 130L650 215L640 200L655 100ZM660 15L650 100M760 130L840 90M780 120L830 95"/>
<ellipse class="f" cx="710" cy="135" rx="15" ry="19"/><ellipse class="f" cx="640" cy="85" rx="11" ry="24" transform="rotate(15 640 85)"/>
<!-- hinge -->
<path class="f" d="M830 395L885 310Q905 295 925 305Q945 320 940 345L960 360Q970 390 960 410L850 480L825 470L800 480L775 460L775 435L830 420ZM830 395L835 460M905 380Q895 420 910 440M940 345Q915 355 905 380"/>
<ellipse class="f" cx="915" cy="328" rx="13" ry="15"/>
<!-- center plate with slot -->
<path class="f" d="M545 680L780 540L915 615Q880 660 890 700Q920 740 1000 770M545 680L560 720L640 770L900 620M640 770L740 830L890 740M585 700Q590 680 620 665L740 630Q770 630 765 650Q760 665 730 675L620 720Q590 725 585 700M620 720L650 665M740 830Q850 790 1000 800M760 840Q860 805 990 810M600 560L640 620"/>
<ellipse class="f" cx="745" cy="770" rx="30" ry="45" transform="rotate(25 745 770)"/>
<path class="f" d="M870 820L870 995" style="stroke-width:5px"/><path class="f" d="M870 830L910 830L910 900L875 900M875 865L910 865"/>
<!-- center upright tube -->
<path class="f" d="M1005 295L1060 740M1060 880Q1055 940 1075 990L1100 1070M1165 450L1200 700M1210 720L1255 1000L1275 1130M1060 740Q1080 790 1140 800Q1190 790 1200 740L1210 720M1090 800L1120 1050M1200 800L1240 1040M1100 1075Q1140 1040 1200 1045Q1250 1060 1270 1110M1130 1090Q1170 1060 1230 1075Q1260 1100 1275 1130M1005 760Q1050 820 1060 880"/>
<path class="f" d="M1200 700L1255 665L1285 655L1295 670L1295 780L1280 790L1275 700M1255 665L1265 770L1210 800"/>
<!-- diagonal brace etc -->
<path class="f" d="M1060 285Q1055 300 1075 310L1120 390L1220 440M1100 200L1105 250L1150 300L1200 340L1220 300L1215 270L1185 250L1180 300M1170 450Q1220 500 1300 480M1180 480Q1210 520 1260 500M1200 560Q1240 580 1270 520"/>
<path class="f" d="M1075 300L1180 340" style="stroke-width:5px"/>
<ellipse class="f" cx="1143" cy="283" rx="13" ry="18" style="stroke-width:4.5px"/>
<!-- flat bar + upper-long rail -->
<path class="f" d="M300 730L345 850L690 1060L745 1035L740 1020M350 850L360 840M495 700L1095 1075M1250 1180L1691 1450M750 1040L1000 1205M1110 1275L1160 1305M1350 1420L1691 1640M480 700Q500 740 480 790Q470 810 490 830M450 830Q480 900 540 925Q580 935 600 920M460 850Q500 910 560 920"/>
<path class="f" d="M310 725L740 1018M322 720L745 1008" style="stroke-width:3.6px"/>
<!-- ear brackets -->
<path class="f" d="M975 1260L1040 1210L1060 1215L1110 1260L1110 1340Q1080 1380 1040 1390L960 1415Q935 1400 940 1360L975 1280ZM1110 1260L1165 1300L1155 1360L1190 1380Q1200 1420 1170 1450Q1145 1500 1150 1530Q1170 1550 1200 1545L1290 1500L1340 1480L1350 1400L1300 1350L1240 1320M1300 1350L1310 1480M1245 1185L1460 1125L1475 1135L1485 1190L1510 1210L1570 1230L1590 1250L1540 1290L1500 1340L1560 1380L1655 1245L1630 1250L1500 1335M1245 1185L1300 1225L1470 1135M1300 1225L1335 1215L1345 1235M1590 1250L1691 1320M1560 1380L1691 1460"/>
<g class="f"><ellipse cx="1010" cy="1340" rx="15" ry="28" transform="rotate(25 1010 1340)"/><ellipse cx="1215" cy="1470" rx="15" ry="28" transform="rotate(25 1215 1470)"/><ellipse cx="1520" cy="1273" rx="28" ry="18"/></g>
<!-- right-top near-rail bracket + box clamp -->
<path class="f" d="M1300 75L1390 30L1470 55L1520 30L1540 45L1500 70L1691 100M1300 75L1300 260L1480 380L1500 330L1530 250L1590 230Q1620 200 1691 200M1370 120L1400 105M1370 120L1530 210L1590 180M1600 260Q1590 320 1640 380L1691 400M1370 120L1360 240"/>
<g class="f"><ellipse cx="1390" cy="70" rx="22" ry="14"/><ellipse cx="1460" cy="75" rx="12" ry="9"/><ellipse cx="1420" cy="100" rx="12" ry="9"/><ellipse cx="1530" cy="120" rx="55" ry="35"/><ellipse cx="1535" cy="125" rx="35" ry="22"/><path d="M1510 110L1560 140"/><ellipse cx="1550" cy="185" rx="14" ry="10"/><ellipse cx="1410" cy="240" rx="38" ry="60" transform="rotate(-15 1410 240)"/><ellipse cx="1335" cy="155" rx="14" ry="19"/></g>
<path class="f" d="M1460 500L1610 385L1691 430M1460 500L1455 520L1450 610L1490 660L1560 700L1640 710L1691 690M1460 500L1650 600L1645 705M1650 600L1691 570M1620 600Q1640 570 1691 545"/>
<ellipse class="f" cx="1605" cy="488" rx="30" ry="20"/><ellipse class="f" cx="1538" cy="617" rx="15" ry="28" transform="rotate(-15 1538 617)"/>
<path class="f" d="M820 0L1110 190M1200 250L1300 300M1070 0L1115 25M1190 70L1300 120M1180 70L1280 65L1290 90L1260 100M1220 440L1455 560M1230 340L1460 470"/>
<ellipse class="f" cx="1235" cy="78" rx="14" ry="9"/>
<path class="f" d="M1570 1665L1610 1640L1650 1660L1612 1685ZM1520 1691Q1540 1660 1570 1665"/>
</g></g>
<defs><clipPath id="cpP"><rect x="2600" y="3700" width="600" height="434"/></clipPath></defs>
<g clip-path="url(#cpP)"><g id="frameP" transform="translate(2600,3700) scale(.35482)">
<!-- rear-left upright -->
<path class="f" d="M225 0L230 90L260 420Q270 560 300 660Q330 740 380 820L430 890M380 80L410 420Q420 520 440 600Q470 690 520 770L560 820M225 60L340 85L385 50L460 0M340 85L345 0"/>
<!-- right rear upright -->
<path class="f" d="M970 0Q950 150 900 330Q850 480 740 700M1135 0Q1120 200 1040 410M855 380L850 400"/>
<!-- top-center bracket -->
<path class="f" d="M545 0Q560 60 600 130L650 215Q680 230 710 220L800 180L810 130L870 100L910 185L940 180M620 0L630 60L720 100L735 60L950 0M635 15L725 70L740 90M880 75L925 185"/>
<ellipse class="f" cx="663" cy="145" rx="18" ry="30" transform="rotate(-15 663 145)"/>
<!-- mid ears + back rails -->
<path class="f" d="M530 430Q535 405 560 402L600 410Q630 440 640 500L740 450L800 465L830 455M530 430L535 480Q540 500 560 510L640 580L700 570L740 500L740 450M640 500L645 570M400 265L770 490M425 470L745 665"/>
<path class="f" d="M630 565L665 585" style="stroke-width:5px"/>
<ellipse class="f" cx="582" cy="467" rx="20" ry="28" transform="rotate(-15 582 467)"/><path class="f" d="M568 455L598 480"/>
<!-- left ears -->
<path class="f" d="M125 320Q120 380 100 420Q95 450 120 465L160 470L240 420M40 215Q60 270 100 290L125 320M0 190L45 215L100 240L95 290M0 120L230 260M180 260L100 300M0 290L100 340"/>
<ellipse class="f" cx="152" cy="405" rx="18" ry="28" transform="rotate(20 152 405)"/>
<path class="f" d="M40 720L70 660Q100 630 150 625Q200 650 215 700L220 740L180 750L165 780L170 820Q200 830 250 810L300 770L320 750M40 720L100 740L105 700M0 680L170 790M0 870L160 960"/>
<ellipse class="f" cx="160" cy="690" rx="18" ry="28" transform="rotate(-15 160 690)"/>
<!-- bottom-left bracket assembly -->
<path class="f" d="M150 950Q165 890 210 865L295 815L325 745L335 800L330 900L285 960L190 1040Q160 1020 150 950M285 960Q300 1000 340 985L440 905L470 870L490 860L500 900M190 1040L215 1060Q280 1050 310 1080L345 1130L360 1150L350 1160L335 1135M440 905L380 1000L350 1060L345 1130L400 1110L470 1060L490 1010L500 900M360 1150L590 1020M490 1010Q480 1050 500 1075L580 1090"/>
<ellipse class="f" cx="225" cy="935" rx="17" ry="30" transform="rotate(20 225 935)"/><ellipse class="f" cx="410" cy="1050" rx="17" ry="30" transform="rotate(20 410 1050)"/>
<!-- small plate -->
<path class="f" d="M430 770L460 745L545 825L570 815L580 960M430 770L440 900M480 860L500 1000L550 1000L520 830M460 745L470 760L545 830"/>
<!-- bottom cross tube -->
<ellipse class="f" cx="625" cy="1030" rx="45" ry="75" transform="rotate(15 625 1030)" style="stroke-width:5px"/>
<ellipse class="f" cx="1090" cy="760" rx="60" ry="75" transform="rotate(15 1090 760)" style="stroke-width:5px"/>
<path class="f" d="M660 962L1040 742M690 1082L1120 832"/>
<!-- top surface + bosses -->
<path class="f" d="M585 960L560 820L680 705L720 710L1000 640M600 800L660 730M680 705L740 830L800 800M740 720L800 710M760 800L810 880M880 800L885 830M750 850L880 790M980 745L1030 720"/>
<g class="f"><ellipse cx="680" cy="845" rx="70" ry="44"/><ellipse cx="680" cy="848" rx="36" ry="22"/><path d="M610 850L610 885Q680 930 750 885L750 850"/><ellipse cx="910" cy="710" rx="68" ry="42"/><ellipse cx="910" cy="713" rx="35" ry="21"/><path d="M842 715L842 745Q910 790 978 745L978 715"/><ellipse cx="843" cy="880" rx="13" ry="22" transform="rotate(20 843 880)"/></g>
<!-- right ear -->
<path class="f" d="M915 640L1000 430L1040 420L1140 480L1130 540L1200 520Q1240 540 1240 590L1210 670L1180 695L1130 690L1100 680M1000 640L1020 620L1080 655L1100 520L1110 480M1080 655L1090 690M915 640L1000 640M1040 420L1020 600"/>
<ellipse class="f" cx="1175" cy="605" rx="17" ry="30" transform="rotate(20 1175 605)"/>
</g></g>
<g id="boxes">
<path class="l" d="M53.5 1664L1369 904L1667.5 904L1667.5 1498.5L551.5 2142.5L53.5 2142.5Z"/>
<path class="l" d="M1746 904L2517 459L3161 459L3161 950L2417.5 1378.5L1746 1378.5Z"/>
</g>
<g id="labels">
<text class="t" x="639.0" y="413" textLength="167.5" lengthAdjust="spacing">21083</text>
<text class="t" x="593.0" y="652" textLength="163.5" lengthAdjust="spacing">92022</text>
<text class="t" x="441.0" y="750" textLength="162.0" lengthAdjust="spacing">92154</text>
<text class="t" x="392.0" y="849.5" textLength="165.0" lengthAdjust="spacing">92200</text>
<text class="t" x="1462.0" y="167.5" textLength="96.0" lengthAdjust="spacing">554</text>
<text class="t" x="1417.0" y="232.5" textLength="198.5" lengthAdjust="spacing">92210A</text>
<text class="t" x="1384.5" y="304" textLength="198.5" lengthAdjust="spacing">92022A</text>
<text class="t" x="1006.0" y="811" textLength="166.0" lengthAdjust="spacing">92210</text>
<text class="t" x="989.5" y="949" textLength="153.5" lengthAdjust="spacing">13061</text>
<text class="t" x="1503.0" y="970" textLength="119.0" lengthAdjust="spacing">(LH)</text>
<text class="t" x="1141.0" y="1130" textLength="199.5" lengthAdjust="spacing">92210C</text>
<text class="t" x="1298.0" y="1407.5" textLength="197.5" lengthAdjust="spacing">39112A</text>
<text class="t" x="612.0" y="1436.5" textLength="197.0" lengthAdjust="spacing">92210B</text>
<text class="t" x="259.5" y="1677.5" textLength="162.5" lengthAdjust="spacing">39112</text>
<text class="t" x="805.0" y="1670" textLength="160.5" lengthAdjust="spacing">39111</text>
<text class="t" x="172.0" y="1834" textLength="201.0" lengthAdjust="spacing">92022A</text>
<text class="t" x="142.0" y="1910" textLength="198.5" lengthAdjust="spacing">92022A</text>
<text class="t" x="112.0" y="1993.5" textLength="199.5" lengthAdjust="spacing">92210A</text>
<text class="t" x="182.0" y="2066" textLength="98.5" lengthAdjust="spacing">550</text>
<text class="t" x="2987.0" y="520" textLength="121.0" lengthAdjust="spacing">(RH)</text>
<text class="t" x="2452.0" y="585" textLength="198.5" lengthAdjust="spacing">92210B</text>
<text class="t" x="2852.0" y="701" textLength="165.0" lengthAdjust="spacing">39112</text>
<text class="t" x="2162.0" y="777.5" textLength="160.0" lengthAdjust="spacing">39111</text>
<text class="t" x="2774.5" y="852" textLength="196.0" lengthAdjust="spacing">92022A</text>
<text class="t" x="2741.0" y="934" textLength="199.5" lengthAdjust="spacing">92022A</text>
<text class="t" x="2704.5" y="1015" textLength="200.0" lengthAdjust="spacing">92210A</text>
<text class="t" x="2664.5" y="1087.5" textLength="99.5" lengthAdjust="spacing">550</text>
<text class="t" x="1947.0" y="1231" textLength="198.5" lengthAdjust="spacing">92210C</text>
<text class="t" x="1789.5" y="1334" textLength="198.5" lengthAdjust="spacing">39112A</text>
<text class="t" x="1930.5" y="2351" textLength="164.0" lengthAdjust="spacing">32160</text>
<text class="ts" x="2898" y="146.5" textLength="150" lengthAdjust="spacing">F2120</text>
<circle class="l" cx="1012" cy="686" r="41.5"/>
<text class="tc" x="1012" y="705">A</text>
<circle class="l" cx="1170" cy="653.5" r="41.5"/>
<text class="tc" x="1170" y="672.5">B</text>
<circle class="l" cx="1463.5" cy="1016.5" r="41.5"/>
<text class="tc" x="1463.5" y="1035.5">A</text>
<circle class="l" cx="1961.5" cy="951.5" r="41.5"/>
<text class="tc" x="1961.5" y="970.5">B</text>
</g>
<g id="leaders">
<path class="l" d="M809 393.5L921 393.5M762 633L874 633M609 730.5L726 730.5M561 830L676 830M1345 148.5L1459 148.5M1297 213.5L1414 213.5M1267 285L1381 285M887 792.5L1002 792.5M867.5 930L982.5 930M1241 1141.5L1241 1252.5M1396.5 1242.5L1396.5 1357.5M1447.5 1055L1415 1130M711 1447.5L711 1560M426 1658.5L542.5 1658.5M889 1507.5L889 1620M375 1813L492.5 1813M540 1756L515 1819M344 1889L460 1889M314 1973L425 1973M284 2046.5L400 2046.5M2551.5 595L2551.5 710M2737.5 681L2849 681M2244 787.5L2244 904M2655 832.5L2772.5 832.5M2662.5 745L2635 825M2620 912.5L2737.5 912.5M2584 994L2701.5 994M2542.5 1066.5L2661 1066.5M1946.5 991.5L1917.5 1057.5M2046 1069L2046 1180M1888.5 1170L1888.5 1284M2011.5 2362.5L2011.5 2477.5"/>
</g>
</svg>
</body></html>
